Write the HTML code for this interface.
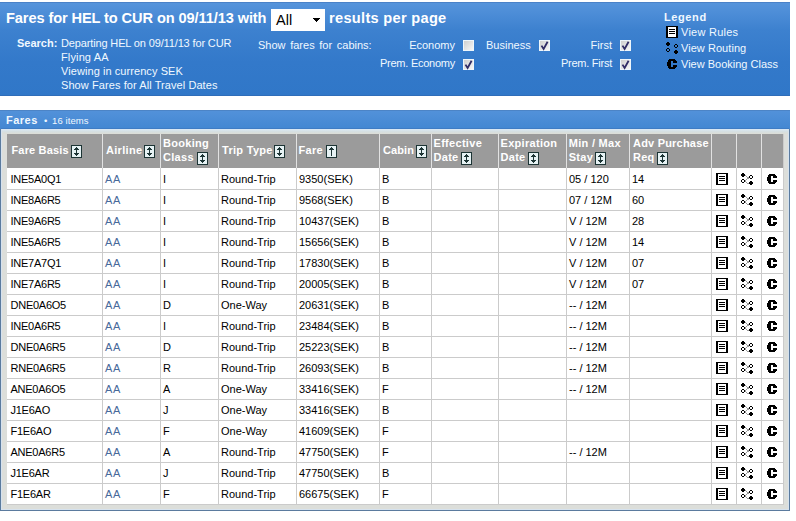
<!DOCTYPE html><html><head><meta charset="utf-8"><style>
*{margin:0;padding:0;box-sizing:border-box}
html,body{width:796px;height:521px;overflow:hidden;background:#fff}
body{position:relative;font-family:"Liberation Sans",sans-serif;font-size:11px;color:#000}
.a{position:absolute;white-space:nowrap;line-height:14px}
#hdr{position:absolute;left:0;top:2px;width:790px;height:94px;background:linear-gradient(#5795dc 0px,#3d81cf 28px,#3379ca 60px,#3077c8 94px)}
.w{color:#f0f8ff}
.b{font-weight:bold}
.cb{position:absolute;width:11px;height:11px}
#box{position:absolute;left:0;top:110px;width:790px;height:401px;border:1px solid #5b7b9e;border-top:none;background:#dcdeda}
#bar{position:absolute;left:-1px;top:0;width:790px;height:19px;background:linear-gradient(#5392da,#4387d2)}
.hd{position:absolute;top:134px;height:34px;background:#9b9b9b}
.vl{position:absolute;width:1px}
.hl{position:absolute;height:1px;background:#cbcbcb}
.c{position:absolute;white-space:nowrap;line-height:14px;font-size:11px}
.h{position:absolute;white-space:nowrap;line-height:13.5px;font-size:11px;font-weight:bold;color:#fff;letter-spacing:0.3px}
.ic{position:absolute}
</style></head><body>

<div id="hdr"></div>
<div class="a" style="left:0;top:2px;width:790px;height:1px;background:#4a82c8"></div>
<div class="a" style="left:0;top:95px;width:790px;height:1px;background:#2f6db9"></div>
<div class="a b" style="left:6px;top:10px;font-size:14.6px;line-height:17px;color:#fff;letter-spacing:-0.1px">Fares for HEL to CUR on 09/11/13 with</div>
<div class="a" style="left:271px;top:9px;width:54px;height:22px;background:#fff"></div>
<div class="a" style="left:276px;top:12px;font-size:14.5px;line-height:17px;color:#000">All</div>
<svg class="ic" style="left:313px;top:18px" width="7" height="4" shape-rendering="crispEdges"><g fill="#000"><rect x="0" y="0" width="7" height="1"/><rect x="1" y="1" width="5" height="1"/><rect x="2" y="2" width="3" height="1"/><rect x="3" y="3" width="1" height="1"/></g></svg>
<div class="a b" style="left:329px;top:10px;font-size:14.6px;line-height:17px;color:#fff;letter-spacing:0.3px">results per page</div>
<div class="a w b" style="left:17px;top:36.2px">Search:</div>
<div class="a w" style="left:61px;top:36.2px;letter-spacing:-0.14px">Departing HEL on 09/11/13 for CUR</div>
<div class="a w" style="left:61px;top:50.1px;letter-spacing:0.13px">Flying AA</div>
<div class="a w" style="left:61px;top:64.0px;letter-spacing:0.07px">Viewing in currency SEK</div>
<div class="a w" style="left:61px;top:77.9px;letter-spacing:0.08px">Show Fares for All Travel Dates</div>
<div class="a w" style="left:258px;top:38px;word-spacing:1.6px">Show fares for cabins:</div>
<div class="a w" style="right:341px;top:38px;letter-spacing:0px">Economy</div>
<div class="a w" style="right:341px;top:56px;letter-spacing:-0.25px">Prem. Economy</div>
<div class="a w" style="left:486px;top:38px">Business</div>
<div class="a w" style="right:184px;top:38px;letter-spacing:0px">First</div>
<div class="a w" style="right:184px;top:56px;letter-spacing:-0.25px">Prem. First</div>
<div class="cb" style="left:463px;top:40px;border:1px solid #eef6fc;background:linear-gradient(135deg,#cfcfcf,#f6f6f6)"></div>
<div class="cb" style="left:463px;top:59px;border:1px solid #eef6fc;background:linear-gradient(135deg,#cfcfcf,#f6f6f6)"></div>
<svg class="cb" style="left:463px;top:59px" width="11" height="11"><path d="M2.5 5.6 L4.6 9 L8.6 1.8" fill="none" stroke="#302c66" stroke-width="1.8"/></svg>
<div class="cb" style="left:539px;top:40px;border:1px solid #eef6fc;background:linear-gradient(135deg,#cfcfcf,#f6f6f6)"></div>
<svg class="cb" style="left:539px;top:40px" width="11" height="11"><path d="M2.5 5.6 L4.6 9 L8.6 1.8" fill="none" stroke="#302c66" stroke-width="1.8"/></svg>
<div class="cb" style="left:620px;top:40px;border:1px solid #eef6fc;background:linear-gradient(135deg,#cfcfcf,#f6f6f6)"></div>
<svg class="cb" style="left:620px;top:40px" width="11" height="11"><path d="M2.5 5.6 L4.6 9 L8.6 1.8" fill="none" stroke="#302c66" stroke-width="1.8"/></svg>
<div class="cb" style="left:620px;top:59px;border:1px solid #eef6fc;background:linear-gradient(135deg,#cfcfcf,#f6f6f6)"></div>
<svg class="cb" style="left:620px;top:59px" width="11" height="11"><path d="M2.5 5.6 L4.6 9 L8.6 1.8" fill="none" stroke="#302c66" stroke-width="1.8"/></svg>
<div class="a b w" style="left:664px;top:10px;letter-spacing:0.6px">Legend</div>
<svg class="ic" style="left:666px;top:26px" width="12" height="12" shape-rendering="crispEdges"><rect x="2" y="1" width="8" height="10" fill="#fff"/><g fill="#000"><rect x="0" y="0" width="12" height="1"/><rect x="0" y="1" width="2" height="1"/><rect x="10" y="1" width="2" height="1"/><rect x="0" y="2" width="2" height="1"/><rect x="10" y="2" width="2" height="1"/><rect x="0" y="3" width="2" height="1"/><rect x="3" y="3" width="6" height="1"/><rect x="10" y="3" width="2" height="1"/><rect x="0" y="4" width="2" height="1"/><rect x="10" y="4" width="2" height="1"/><rect x="0" y="5" width="2" height="1"/><rect x="3" y="5" width="6" height="1"/><rect x="10" y="5" width="2" height="1"/><rect x="0" y="6" width="2" height="1"/><rect x="10" y="6" width="2" height="1"/><rect x="0" y="7" width="2" height="1"/><rect x="3" y="7" width="6" height="1"/><rect x="10" y="7" width="2" height="1"/><rect x="0" y="8" width="2" height="1"/><rect x="10" y="8" width="2" height="1"/><rect x="0" y="9" width="2" height="1"/><rect x="10" y="9" width="2" height="1"/><rect x="0" y="10" width="2" height="1"/><rect x="10" y="10" width="2" height="1"/><rect x="0" y="11" width="12" height="1"/></g></svg>
<div class="a w" style="left:681px;top:25px;letter-spacing:0.25px">View Rules</div>
<svg class="ic" style="left:666px;top:42px" width="13" height="12" shape-rendering="crispEdges"><g fill="#000"><rect x="1" y="0" width="2" height="1"/><rect x="0" y="1" width="4" height="1"/><rect x="0" y="2" width="4" height="1"/><rect x="9" y="2" width="2" height="1"/><rect x="1" y="3" width="2" height="1"/><rect x="8" y="3" width="1" height="1"/><rect x="11" y="3" width="1" height="1"/><rect x="8" y="4" width="1" height="1"/><rect x="11" y="4" width="1" height="1"/><rect x="9" y="5" width="2" height="1"/><rect x="1" y="6" width="2" height="1"/><rect x="0" y="7" width="1" height="1"/><rect x="3" y="7" width="1" height="1"/><rect x="0" y="8" width="1" height="1"/><rect x="3" y="8" width="1" height="1"/><rect x="9" y="8" width="2" height="1"/><rect x="1" y="9" width="2" height="1"/><rect x="8" y="9" width="4" height="1"/><rect x="8" y="10" width="4" height="1"/><rect x="9" y="11" width="2" height="1"/></g></svg>
<div class="a w" style="left:681px;top:41px;letter-spacing:0.05px">View Routing</div>
<svg class="ic" style="left:667px;top:59px" width="10" height="10" shape-rendering="crispEdges"><g fill="#000"><rect x="2" y="0" width="6" height="1"/><rect x="1" y="1" width="8" height="1"/><rect x="1" y="2" width="3" height="1"/><rect x="6" y="2" width="4" height="1"/><rect x="0" y="3" width="4" height="1"/><rect x="6" y="3" width="4" height="1"/><rect x="0" y="4" width="4" height="1"/><rect x="0" y="5" width="4" height="1"/><rect x="0" y="6" width="4" height="1"/><rect x="6" y="6" width="4" height="1"/><rect x="1" y="7" width="3" height="1"/><rect x="6" y="7" width="4" height="1"/><rect x="1" y="8" width="8" height="1"/><rect x="2" y="9" width="6" height="1"/></g></svg>
<div class="a w" style="left:681px;top:57px">View Booking Class</div>
<div id="box"><div id="bar"></div></div>
<div class="a" style="left:1px;top:128px;width:788px;height:1px;background:#3f7cc4"></div>
<div class="a" style="left:1px;top:129px;width:788px;height:5px;background:linear-gradient(#dae8f6,#d6e0e2 50%,#dcddd6)"></div>
<div class="a" style="left:0px;top:110px;width:790px;height:1px;background:#4c84c6"></div>
<div class="a" style="left:1px;top:129px;width:1px;height:381px;background:#d6e2ee"></div>
<div class="a" style="left:788px;top:129px;width:1px;height:381px;background:#d6e2ee"></div>
<div class="a" style="left:1px;top:509px;width:788px;height:1px;background:#d6e2ee"></div>
<div class="a b w" style="left:6px;top:113px;letter-spacing:0.5px">Fares</div>
<div class="a w" style="left:44px;top:114px;font-size:9.5px">&#8226;</div>
<div class="a w" style="left:52px;top:114px;font-size:9.5px;letter-spacing:0.1px">16 items</div>
<div class="a" style="left:7px;top:168px;width:776px;height:336px;background:#fff"></div>
<div class="hd" style="left:7px;width:776px"></div>
<div class="hl" style="left:7px;top:189px;width:776px"></div>
<div class="hl" style="left:7px;top:210px;width:776px"></div>
<div class="hl" style="left:7px;top:231px;width:776px"></div>
<div class="hl" style="left:7px;top:252px;width:776px"></div>
<div class="hl" style="left:7px;top:273px;width:776px"></div>
<div class="hl" style="left:7px;top:294px;width:776px"></div>
<div class="hl" style="left:7px;top:315px;width:776px"></div>
<div class="hl" style="left:7px;top:336px;width:776px"></div>
<div class="hl" style="left:7px;top:357px;width:776px"></div>
<div class="hl" style="left:7px;top:378px;width:776px"></div>
<div class="hl" style="left:7px;top:399px;width:776px"></div>
<div class="hl" style="left:7px;top:420px;width:776px"></div>
<div class="hl" style="left:7px;top:441px;width:776px"></div>
<div class="hl" style="left:7px;top:462px;width:776px"></div>
<div class="hl" style="left:7px;top:483px;width:776px"></div>
<div class="hl" style="left:7px;top:504px;width:776px"></div>
<div class="vl" style="left:102px;top:134px;height:34px;background:#e2e2e2"></div>
<div class="vl" style="left:102px;top:168px;height:336px;background:#cbcbcb"></div>
<div class="vl" style="left:160px;top:134px;height:34px;background:#e2e2e2"></div>
<div class="vl" style="left:160px;top:168px;height:336px;background:#cbcbcb"></div>
<div class="vl" style="left:218px;top:134px;height:34px;background:#e2e2e2"></div>
<div class="vl" style="left:218px;top:168px;height:336px;background:#cbcbcb"></div>
<div class="vl" style="left:296px;top:134px;height:34px;background:#e2e2e2"></div>
<div class="vl" style="left:296px;top:168px;height:336px;background:#cbcbcb"></div>
<div class="vl" style="left:379px;top:134px;height:34px;background:#e2e2e2"></div>
<div class="vl" style="left:379px;top:168px;height:336px;background:#cbcbcb"></div>
<div class="vl" style="left:431px;top:134px;height:34px;background:#e2e2e2"></div>
<div class="vl" style="left:431px;top:168px;height:336px;background:#cbcbcb"></div>
<div class="vl" style="left:498px;top:134px;height:34px;background:#e2e2e2"></div>
<div class="vl" style="left:498px;top:168px;height:336px;background:#cbcbcb"></div>
<div class="vl" style="left:566px;top:134px;height:34px;background:#e2e2e2"></div>
<div class="vl" style="left:566px;top:168px;height:336px;background:#cbcbcb"></div>
<div class="vl" style="left:629px;top:134px;height:34px;background:#e2e2e2"></div>
<div class="vl" style="left:629px;top:168px;height:336px;background:#cbcbcb"></div>
<div class="vl" style="left:711px;top:134px;height:34px;background:#e2e2e2"></div>
<div class="vl" style="left:711px;top:168px;height:336px;background:#cbcbcb"></div>
<div class="vl" style="left:736px;top:134px;height:34px;background:#e2e2e2"></div>
<div class="vl" style="left:736px;top:168px;height:336px;background:#cbcbcb"></div>
<div class="vl" style="left:761px;top:134px;height:34px;background:#e2e2e2"></div>
<div class="vl" style="left:761px;top:168px;height:336px;background:#cbcbcb"></div>
<div class="vl" style="left:783px;top:134px;height:371px;background:#cbcbcb"></div>
<div class="h" style="left:11.5px;top:144px;letter-spacing:0.15px">Fare Basis</div>
<div class="h" style="left:106px;top:144px">Airline</div>
<div class="h" style="left:163px;top:137px">Booking<br>Class</div>
<div class="h" style="left:222px;top:144px">Trip Type</div>
<div class="h" style="left:298.5px;top:144px">Fare</div>
<div class="h" style="left:383px;top:144px;letter-spacing:0.1px">Cabin</div>
<div class="h" style="left:433.5px;top:137px">Effective<br>Date</div>
<div class="h" style="left:500.5px;top:137px">Expiration<br>Date</div>
<div class="h" style="left:568.7px;top:137px">Min / Max<br>Stay</div>
<div class="h" style="left:633px;top:137px;letter-spacing:0.2px">Adv Purchase<br>Req</div>
<svg class="ic" style="left:71px;top:145px" width="11" height="13" shape-rendering="crispEdges"><rect x="1" y="1" width="9" height="11" fill="#e6f2f4"/><g fill="#1c3434"><rect x="0" y="0" width="11" height="1"/><rect x="0" y="1" width="1" height="1"/><rect x="10" y="1" width="1" height="1"/><rect x="0" y="2" width="1" height="1"/><rect x="5" y="2" width="1" height="1"/><rect x="10" y="2" width="1" height="1"/><rect x="0" y="3" width="1" height="1"/><rect x="4" y="3" width="3" height="1"/><rect x="10" y="3" width="1" height="1"/><rect x="0" y="4" width="1" height="1"/><rect x="3" y="4" width="5" height="1"/><rect x="10" y="4" width="1" height="1"/><rect x="0" y="5" width="1" height="1"/><rect x="5" y="5" width="1" height="1"/><rect x="10" y="5" width="1" height="1"/><rect x="0" y="6" width="1" height="1"/><rect x="5" y="6" width="1" height="1"/><rect x="10" y="6" width="1" height="1"/><rect x="0" y="7" width="1" height="1"/><rect x="5" y="7" width="1" height="1"/><rect x="10" y="7" width="1" height="1"/><rect x="0" y="8" width="1" height="1"/><rect x="3" y="8" width="5" height="1"/><rect x="10" y="8" width="1" height="1"/><rect x="0" y="9" width="1" height="1"/><rect x="4" y="9" width="3" height="1"/><rect x="10" y="9" width="1" height="1"/><rect x="0" y="10" width="1" height="1"/><rect x="5" y="10" width="1" height="1"/><rect x="10" y="10" width="1" height="1"/><rect x="0" y="11" width="1" height="1"/><rect x="10" y="11" width="1" height="1"/><rect x="0" y="12" width="11" height="1"/></g></svg>
<svg class="ic" style="left:144px;top:145px" width="11" height="13" shape-rendering="crispEdges"><rect x="1" y="1" width="9" height="11" fill="#e6f2f4"/><g fill="#1c3434"><rect x="0" y="0" width="11" height="1"/><rect x="0" y="1" width="1" height="1"/><rect x="10" y="1" width="1" height="1"/><rect x="0" y="2" width="1" height="1"/><rect x="5" y="2" width="1" height="1"/><rect x="10" y="2" width="1" height="1"/><rect x="0" y="3" width="1" height="1"/><rect x="4" y="3" width="3" height="1"/><rect x="10" y="3" width="1" height="1"/><rect x="0" y="4" width="1" height="1"/><rect x="3" y="4" width="5" height="1"/><rect x="10" y="4" width="1" height="1"/><rect x="0" y="5" width="1" height="1"/><rect x="5" y="5" width="1" height="1"/><rect x="10" y="5" width="1" height="1"/><rect x="0" y="6" width="1" height="1"/><rect x="5" y="6" width="1" height="1"/><rect x="10" y="6" width="1" height="1"/><rect x="0" y="7" width="1" height="1"/><rect x="5" y="7" width="1" height="1"/><rect x="10" y="7" width="1" height="1"/><rect x="0" y="8" width="1" height="1"/><rect x="3" y="8" width="5" height="1"/><rect x="10" y="8" width="1" height="1"/><rect x="0" y="9" width="1" height="1"/><rect x="4" y="9" width="3" height="1"/><rect x="10" y="9" width="1" height="1"/><rect x="0" y="10" width="1" height="1"/><rect x="5" y="10" width="1" height="1"/><rect x="10" y="10" width="1" height="1"/><rect x="0" y="11" width="1" height="1"/><rect x="10" y="11" width="1" height="1"/><rect x="0" y="12" width="11" height="1"/></g></svg>
<svg class="ic" style="left:197px;top:152px" width="11" height="13" shape-rendering="crispEdges"><rect x="1" y="1" width="9" height="11" fill="#e6f2f4"/><g fill="#1c3434"><rect x="0" y="0" width="11" height="1"/><rect x="0" y="1" width="1" height="1"/><rect x="10" y="1" width="1" height="1"/><rect x="0" y="2" width="1" height="1"/><rect x="5" y="2" width="1" height="1"/><rect x="10" y="2" width="1" height="1"/><rect x="0" y="3" width="1" height="1"/><rect x="4" y="3" width="3" height="1"/><rect x="10" y="3" width="1" height="1"/><rect x="0" y="4" width="1" height="1"/><rect x="3" y="4" width="5" height="1"/><rect x="10" y="4" width="1" height="1"/><rect x="0" y="5" width="1" height="1"/><rect x="5" y="5" width="1" height="1"/><rect x="10" y="5" width="1" height="1"/><rect x="0" y="6" width="1" height="1"/><rect x="5" y="6" width="1" height="1"/><rect x="10" y="6" width="1" height="1"/><rect x="0" y="7" width="1" height="1"/><rect x="5" y="7" width="1" height="1"/><rect x="10" y="7" width="1" height="1"/><rect x="0" y="8" width="1" height="1"/><rect x="3" y="8" width="5" height="1"/><rect x="10" y="8" width="1" height="1"/><rect x="0" y="9" width="1" height="1"/><rect x="4" y="9" width="3" height="1"/><rect x="10" y="9" width="1" height="1"/><rect x="0" y="10" width="1" height="1"/><rect x="5" y="10" width="1" height="1"/><rect x="10" y="10" width="1" height="1"/><rect x="0" y="11" width="1" height="1"/><rect x="10" y="11" width="1" height="1"/><rect x="0" y="12" width="11" height="1"/></g></svg>
<svg class="ic" style="left:274px;top:145px" width="11" height="13" shape-rendering="crispEdges"><rect x="1" y="1" width="9" height="11" fill="#e6f2f4"/><g fill="#1c3434"><rect x="0" y="0" width="11" height="1"/><rect x="0" y="1" width="1" height="1"/><rect x="10" y="1" width="1" height="1"/><rect x="0" y="2" width="1" height="1"/><rect x="5" y="2" width="1" height="1"/><rect x="10" y="2" width="1" height="1"/><rect x="0" y="3" width="1" height="1"/><rect x="4" y="3" width="3" height="1"/><rect x="10" y="3" width="1" height="1"/><rect x="0" y="4" width="1" height="1"/><rect x="3" y="4" width="5" height="1"/><rect x="10" y="4" width="1" height="1"/><rect x="0" y="5" width="1" height="1"/><rect x="5" y="5" width="1" height="1"/><rect x="10" y="5" width="1" height="1"/><rect x="0" y="6" width="1" height="1"/><rect x="5" y="6" width="1" height="1"/><rect x="10" y="6" width="1" height="1"/><rect x="0" y="7" width="1" height="1"/><rect x="5" y="7" width="1" height="1"/><rect x="10" y="7" width="1" height="1"/><rect x="0" y="8" width="1" height="1"/><rect x="3" y="8" width="5" height="1"/><rect x="10" y="8" width="1" height="1"/><rect x="0" y="9" width="1" height="1"/><rect x="4" y="9" width="3" height="1"/><rect x="10" y="9" width="1" height="1"/><rect x="0" y="10" width="1" height="1"/><rect x="5" y="10" width="1" height="1"/><rect x="10" y="10" width="1" height="1"/><rect x="0" y="11" width="1" height="1"/><rect x="10" y="11" width="1" height="1"/><rect x="0" y="12" width="11" height="1"/></g></svg>
<svg class="ic" style="left:326px;top:145px" width="11" height="13" shape-rendering="crispEdges"><rect x="1" y="1" width="9" height="11" fill="#e6f2f4"/><g fill="#1c3434"><rect x="0" y="0" width="11" height="1"/><rect x="0" y="1" width="1" height="1"/><rect x="10" y="1" width="1" height="1"/><rect x="0" y="2" width="1" height="1"/><rect x="5" y="2" width="1" height="1"/><rect x="10" y="2" width="1" height="1"/><rect x="0" y="3" width="1" height="1"/><rect x="4" y="3" width="3" height="1"/><rect x="10" y="3" width="1" height="1"/><rect x="0" y="4" width="1" height="1"/><rect x="3" y="4" width="5" height="1"/><rect x="10" y="4" width="1" height="1"/><rect x="0" y="5" width="1" height="1"/><rect x="5" y="5" width="1" height="1"/><rect x="10" y="5" width="1" height="1"/><rect x="0" y="6" width="1" height="1"/><rect x="5" y="6" width="1" height="1"/><rect x="10" y="6" width="1" height="1"/><rect x="0" y="7" width="1" height="1"/><rect x="5" y="7" width="1" height="1"/><rect x="10" y="7" width="1" height="1"/><rect x="0" y="8" width="1" height="1"/><rect x="5" y="8" width="1" height="1"/><rect x="10" y="8" width="1" height="1"/><rect x="0" y="9" width="1" height="1"/><rect x="5" y="9" width="1" height="1"/><rect x="10" y="9" width="1" height="1"/><rect x="0" y="10" width="1" height="1"/><rect x="5" y="10" width="1" height="1"/><rect x="10" y="10" width="1" height="1"/><rect x="0" y="11" width="1" height="1"/><rect x="10" y="11" width="1" height="1"/><rect x="0" y="12" width="11" height="1"/></g></svg>
<svg class="ic" style="left:416px;top:145px" width="11" height="13" shape-rendering="crispEdges"><rect x="1" y="1" width="9" height="11" fill="#e6f2f4"/><g fill="#1c3434"><rect x="0" y="0" width="11" height="1"/><rect x="0" y="1" width="1" height="1"/><rect x="10" y="1" width="1" height="1"/><rect x="0" y="2" width="1" height="1"/><rect x="5" y="2" width="1" height="1"/><rect x="10" y="2" width="1" height="1"/><rect x="0" y="3" width="1" height="1"/><rect x="4" y="3" width="3" height="1"/><rect x="10" y="3" width="1" height="1"/><rect x="0" y="4" width="1" height="1"/><rect x="3" y="4" width="5" height="1"/><rect x="10" y="4" width="1" height="1"/><rect x="0" y="5" width="1" height="1"/><rect x="5" y="5" width="1" height="1"/><rect x="10" y="5" width="1" height="1"/><rect x="0" y="6" width="1" height="1"/><rect x="5" y="6" width="1" height="1"/><rect x="10" y="6" width="1" height="1"/><rect x="0" y="7" width="1" height="1"/><rect x="5" y="7" width="1" height="1"/><rect x="10" y="7" width="1" height="1"/><rect x="0" y="8" width="1" height="1"/><rect x="3" y="8" width="5" height="1"/><rect x="10" y="8" width="1" height="1"/><rect x="0" y="9" width="1" height="1"/><rect x="4" y="9" width="3" height="1"/><rect x="10" y="9" width="1" height="1"/><rect x="0" y="10" width="1" height="1"/><rect x="5" y="10" width="1" height="1"/><rect x="10" y="10" width="1" height="1"/><rect x="0" y="11" width="1" height="1"/><rect x="10" y="11" width="1" height="1"/><rect x="0" y="12" width="11" height="1"/></g></svg>
<svg class="ic" style="left:461px;top:152px" width="11" height="13" shape-rendering="crispEdges"><rect x="1" y="1" width="9" height="11" fill="#e6f2f4"/><g fill="#1c3434"><rect x="0" y="0" width="11" height="1"/><rect x="0" y="1" width="1" height="1"/><rect x="10" y="1" width="1" height="1"/><rect x="0" y="2" width="1" height="1"/><rect x="5" y="2" width="1" height="1"/><rect x="10" y="2" width="1" height="1"/><rect x="0" y="3" width="1" height="1"/><rect x="4" y="3" width="3" height="1"/><rect x="10" y="3" width="1" height="1"/><rect x="0" y="4" width="1" height="1"/><rect x="3" y="4" width="5" height="1"/><rect x="10" y="4" width="1" height="1"/><rect x="0" y="5" width="1" height="1"/><rect x="5" y="5" width="1" height="1"/><rect x="10" y="5" width="1" height="1"/><rect x="0" y="6" width="1" height="1"/><rect x="5" y="6" width="1" height="1"/><rect x="10" y="6" width="1" height="1"/><rect x="0" y="7" width="1" height="1"/><rect x="5" y="7" width="1" height="1"/><rect x="10" y="7" width="1" height="1"/><rect x="0" y="8" width="1" height="1"/><rect x="3" y="8" width="5" height="1"/><rect x="10" y="8" width="1" height="1"/><rect x="0" y="9" width="1" height="1"/><rect x="4" y="9" width="3" height="1"/><rect x="10" y="9" width="1" height="1"/><rect x="0" y="10" width="1" height="1"/><rect x="5" y="10" width="1" height="1"/><rect x="10" y="10" width="1" height="1"/><rect x="0" y="11" width="1" height="1"/><rect x="10" y="11" width="1" height="1"/><rect x="0" y="12" width="11" height="1"/></g></svg>
<svg class="ic" style="left:528px;top:152px" width="11" height="13" shape-rendering="crispEdges"><rect x="1" y="1" width="9" height="11" fill="#e6f2f4"/><g fill="#1c3434"><rect x="0" y="0" width="11" height="1"/><rect x="0" y="1" width="1" height="1"/><rect x="10" y="1" width="1" height="1"/><rect x="0" y="2" width="1" height="1"/><rect x="5" y="2" width="1" height="1"/><rect x="10" y="2" width="1" height="1"/><rect x="0" y="3" width="1" height="1"/><rect x="4" y="3" width="3" height="1"/><rect x="10" y="3" width="1" height="1"/><rect x="0" y="4" width="1" height="1"/><rect x="3" y="4" width="5" height="1"/><rect x="10" y="4" width="1" height="1"/><rect x="0" y="5" width="1" height="1"/><rect x="5" y="5" width="1" height="1"/><rect x="10" y="5" width="1" height="1"/><rect x="0" y="6" width="1" height="1"/><rect x="5" y="6" width="1" height="1"/><rect x="10" y="6" width="1" height="1"/><rect x="0" y="7" width="1" height="1"/><rect x="5" y="7" width="1" height="1"/><rect x="10" y="7" width="1" height="1"/><rect x="0" y="8" width="1" height="1"/><rect x="3" y="8" width="5" height="1"/><rect x="10" y="8" width="1" height="1"/><rect x="0" y="9" width="1" height="1"/><rect x="4" y="9" width="3" height="1"/><rect x="10" y="9" width="1" height="1"/><rect x="0" y="10" width="1" height="1"/><rect x="5" y="10" width="1" height="1"/><rect x="10" y="10" width="1" height="1"/><rect x="0" y="11" width="1" height="1"/><rect x="10" y="11" width="1" height="1"/><rect x="0" y="12" width="11" height="1"/></g></svg>
<svg class="ic" style="left:595px;top:152px" width="11" height="13" shape-rendering="crispEdges"><rect x="1" y="1" width="9" height="11" fill="#e6f2f4"/><g fill="#1c3434"><rect x="0" y="0" width="11" height="1"/><rect x="0" y="1" width="1" height="1"/><rect x="10" y="1" width="1" height="1"/><rect x="0" y="2" width="1" height="1"/><rect x="5" y="2" width="1" height="1"/><rect x="10" y="2" width="1" height="1"/><rect x="0" y="3" width="1" height="1"/><rect x="4" y="3" width="3" height="1"/><rect x="10" y="3" width="1" height="1"/><rect x="0" y="4" width="1" height="1"/><rect x="3" y="4" width="5" height="1"/><rect x="10" y="4" width="1" height="1"/><rect x="0" y="5" width="1" height="1"/><rect x="5" y="5" width="1" height="1"/><rect x="10" y="5" width="1" height="1"/><rect x="0" y="6" width="1" height="1"/><rect x="5" y="6" width="1" height="1"/><rect x="10" y="6" width="1" height="1"/><rect x="0" y="7" width="1" height="1"/><rect x="5" y="7" width="1" height="1"/><rect x="10" y="7" width="1" height="1"/><rect x="0" y="8" width="1" height="1"/><rect x="3" y="8" width="5" height="1"/><rect x="10" y="8" width="1" height="1"/><rect x="0" y="9" width="1" height="1"/><rect x="4" y="9" width="3" height="1"/><rect x="10" y="9" width="1" height="1"/><rect x="0" y="10" width="1" height="1"/><rect x="5" y="10" width="1" height="1"/><rect x="10" y="10" width="1" height="1"/><rect x="0" y="11" width="1" height="1"/><rect x="10" y="11" width="1" height="1"/><rect x="0" y="12" width="11" height="1"/></g></svg>
<svg class="ic" style="left:657px;top:152px" width="11" height="13" shape-rendering="crispEdges"><rect x="1" y="1" width="9" height="11" fill="#e6f2f4"/><g fill="#1c3434"><rect x="0" y="0" width="11" height="1"/><rect x="0" y="1" width="1" height="1"/><rect x="10" y="1" width="1" height="1"/><rect x="0" y="2" width="1" height="1"/><rect x="5" y="2" width="1" height="1"/><rect x="10" y="2" width="1" height="1"/><rect x="0" y="3" width="1" height="1"/><rect x="4" y="3" width="3" height="1"/><rect x="10" y="3" width="1" height="1"/><rect x="0" y="4" width="1" height="1"/><rect x="3" y="4" width="5" height="1"/><rect x="10" y="4" width="1" height="1"/><rect x="0" y="5" width="1" height="1"/><rect x="5" y="5" width="1" height="1"/><rect x="10" y="5" width="1" height="1"/><rect x="0" y="6" width="1" height="1"/><rect x="5" y="6" width="1" height="1"/><rect x="10" y="6" width="1" height="1"/><rect x="0" y="7" width="1" height="1"/><rect x="5" y="7" width="1" height="1"/><rect x="10" y="7" width="1" height="1"/><rect x="0" y="8" width="1" height="1"/><rect x="3" y="8" width="5" height="1"/><rect x="10" y="8" width="1" height="1"/><rect x="0" y="9" width="1" height="1"/><rect x="4" y="9" width="3" height="1"/><rect x="10" y="9" width="1" height="1"/><rect x="0" y="10" width="1" height="1"/><rect x="5" y="10" width="1" height="1"/><rect x="10" y="10" width="1" height="1"/><rect x="0" y="11" width="1" height="1"/><rect x="10" y="11" width="1" height="1"/><rect x="0" y="12" width="11" height="1"/></g></svg>
<div class="c" style="left:10.5px;top:172px;color:#000;letter-spacing:-0.25px">INE5A0Q1</div>
<div class="c" style="left:105px;top:172px;color:#47699a;letter-spacing:0.7px">AA</div>
<div class="c" style="left:163px;top:172px;color:#000">I</div>
<div class="c" style="left:221px;top:172px;color:#000">Round-Trip</div>
<div class="c" style="left:299px;top:172px;color:#000">9350(SEK)</div>
<div class="c" style="left:382px;top:172px;color:#000">B</div>
<div class="c" style="left:569px;top:172px;color:#000">05 / 120</div>
<div class="c" style="left:632px;top:172px;color:#000">14</div>
<svg class="ic" style="left:716px;top:173px" width="12" height="12" shape-rendering="crispEdges"><rect x="2" y="1" width="8" height="10" fill="#fff"/><g fill="#000"><rect x="0" y="0" width="12" height="1"/><rect x="0" y="1" width="2" height="1"/><rect x="10" y="1" width="2" height="1"/><rect x="0" y="2" width="2" height="1"/><rect x="10" y="2" width="2" height="1"/><rect x="0" y="3" width="2" height="1"/><rect x="3" y="3" width="6" height="1"/><rect x="10" y="3" width="2" height="1"/><rect x="0" y="4" width="2" height="1"/><rect x="10" y="4" width="2" height="1"/><rect x="0" y="5" width="2" height="1"/><rect x="3" y="5" width="6" height="1"/><rect x="10" y="5" width="2" height="1"/><rect x="0" y="6" width="2" height="1"/><rect x="10" y="6" width="2" height="1"/><rect x="0" y="7" width="2" height="1"/><rect x="3" y="7" width="6" height="1"/><rect x="10" y="7" width="2" height="1"/><rect x="0" y="8" width="2" height="1"/><rect x="10" y="8" width="2" height="1"/><rect x="0" y="9" width="2" height="1"/><rect x="10" y="9" width="2" height="1"/><rect x="0" y="10" width="2" height="1"/><rect x="10" y="10" width="2" height="1"/><rect x="0" y="11" width="12" height="1"/></g></svg>
<svg class="ic" style="left:741px;top:173px" width="13" height="12" shape-rendering="crispEdges"><g fill="#9a9a9a"><rect x="4" y="2" width="1" height="1"/><rect x="5" y="3" width="1" height="1"/><rect x="6" y="4" width="1" height="1"/><rect x="7" y="5" width="1" height="1"/><rect x="4" y="7" width="1" height="1"/><rect x="5" y="6" width="1" height="1"/><rect x="6" y="5" width="1" height="1"/><rect x="7" y="4" width="1" height="1"/><rect x="4" y="8" width="1" height="1"/><rect x="5" y="9" width="1" height="1"/><rect x="6" y="10" width="1" height="1"/><rect x="7" y="10" width="1" height="1"/></g><g fill="#000"><rect x="1" y="0" width="2" height="1"/><rect x="0" y="1" width="4" height="1"/><rect x="0" y="2" width="4" height="1"/><rect x="9" y="2" width="2" height="1"/><rect x="1" y="3" width="2" height="1"/><rect x="8" y="3" width="1" height="1"/><rect x="11" y="3" width="1" height="1"/><rect x="8" y="4" width="1" height="1"/><rect x="11" y="4" width="1" height="1"/><rect x="9" y="5" width="2" height="1"/><rect x="1" y="6" width="2" height="1"/><rect x="0" y="7" width="1" height="1"/><rect x="3" y="7" width="1" height="1"/><rect x="0" y="8" width="1" height="1"/><rect x="3" y="8" width="1" height="1"/><rect x="9" y="8" width="2" height="1"/><rect x="1" y="9" width="2" height="1"/><rect x="8" y="9" width="4" height="1"/><rect x="8" y="10" width="4" height="1"/><rect x="9" y="11" width="2" height="1"/></g></svg>
<svg class="ic" style="left:767px;top:174px" width="10" height="10" shape-rendering="crispEdges"><g fill="#000"><rect x="2" y="0" width="6" height="1"/><rect x="1" y="1" width="8" height="1"/><rect x="1" y="2" width="3" height="1"/><rect x="6" y="2" width="4" height="1"/><rect x="0" y="3" width="4" height="1"/><rect x="6" y="3" width="4" height="1"/><rect x="0" y="4" width="4" height="1"/><rect x="0" y="5" width="4" height="1"/><rect x="0" y="6" width="4" height="1"/><rect x="6" y="6" width="4" height="1"/><rect x="1" y="7" width="3" height="1"/><rect x="6" y="7" width="4" height="1"/><rect x="1" y="8" width="8" height="1"/><rect x="2" y="9" width="6" height="1"/></g></svg>
<div class="c" style="left:10.5px;top:193px;color:#000;letter-spacing:-0.25px">INE8A6R5</div>
<div class="c" style="left:105px;top:193px;color:#47699a;letter-spacing:0.7px">AA</div>
<div class="c" style="left:163px;top:193px;color:#000">I</div>
<div class="c" style="left:221px;top:193px;color:#000">Round-Trip</div>
<div class="c" style="left:299px;top:193px;color:#000">9568(SEK)</div>
<div class="c" style="left:382px;top:193px;color:#000">B</div>
<div class="c" style="left:569px;top:193px;color:#000">07 / 12M</div>
<div class="c" style="left:632px;top:193px;color:#000">60</div>
<svg class="ic" style="left:716px;top:194px" width="12" height="12" shape-rendering="crispEdges"><rect x="2" y="1" width="8" height="10" fill="#fff"/><g fill="#000"><rect x="0" y="0" width="12" height="1"/><rect x="0" y="1" width="2" height="1"/><rect x="10" y="1" width="2" height="1"/><rect x="0" y="2" width="2" height="1"/><rect x="10" y="2" width="2" height="1"/><rect x="0" y="3" width="2" height="1"/><rect x="3" y="3" width="6" height="1"/><rect x="10" y="3" width="2" height="1"/><rect x="0" y="4" width="2" height="1"/><rect x="10" y="4" width="2" height="1"/><rect x="0" y="5" width="2" height="1"/><rect x="3" y="5" width="6" height="1"/><rect x="10" y="5" width="2" height="1"/><rect x="0" y="6" width="2" height="1"/><rect x="10" y="6" width="2" height="1"/><rect x="0" y="7" width="2" height="1"/><rect x="3" y="7" width="6" height="1"/><rect x="10" y="7" width="2" height="1"/><rect x="0" y="8" width="2" height="1"/><rect x="10" y="8" width="2" height="1"/><rect x="0" y="9" width="2" height="1"/><rect x="10" y="9" width="2" height="1"/><rect x="0" y="10" width="2" height="1"/><rect x="10" y="10" width="2" height="1"/><rect x="0" y="11" width="12" height="1"/></g></svg>
<svg class="ic" style="left:741px;top:194px" width="13" height="12" shape-rendering="crispEdges"><g fill="#9a9a9a"><rect x="4" y="2" width="1" height="1"/><rect x="5" y="3" width="1" height="1"/><rect x="6" y="4" width="1" height="1"/><rect x="7" y="5" width="1" height="1"/><rect x="4" y="7" width="1" height="1"/><rect x="5" y="6" width="1" height="1"/><rect x="6" y="5" width="1" height="1"/><rect x="7" y="4" width="1" height="1"/><rect x="4" y="8" width="1" height="1"/><rect x="5" y="9" width="1" height="1"/><rect x="6" y="10" width="1" height="1"/><rect x="7" y="10" width="1" height="1"/></g><g fill="#000"><rect x="1" y="0" width="2" height="1"/><rect x="0" y="1" width="4" height="1"/><rect x="0" y="2" width="4" height="1"/><rect x="9" y="2" width="2" height="1"/><rect x="1" y="3" width="2" height="1"/><rect x="8" y="3" width="1" height="1"/><rect x="11" y="3" width="1" height="1"/><rect x="8" y="4" width="1" height="1"/><rect x="11" y="4" width="1" height="1"/><rect x="9" y="5" width="2" height="1"/><rect x="1" y="6" width="2" height="1"/><rect x="0" y="7" width="1" height="1"/><rect x="3" y="7" width="1" height="1"/><rect x="0" y="8" width="1" height="1"/><rect x="3" y="8" width="1" height="1"/><rect x="9" y="8" width="2" height="1"/><rect x="1" y="9" width="2" height="1"/><rect x="8" y="9" width="4" height="1"/><rect x="8" y="10" width="4" height="1"/><rect x="9" y="11" width="2" height="1"/></g></svg>
<svg class="ic" style="left:767px;top:195px" width="10" height="10" shape-rendering="crispEdges"><g fill="#000"><rect x="2" y="0" width="6" height="1"/><rect x="1" y="1" width="8" height="1"/><rect x="1" y="2" width="3" height="1"/><rect x="6" y="2" width="4" height="1"/><rect x="0" y="3" width="4" height="1"/><rect x="6" y="3" width="4" height="1"/><rect x="0" y="4" width="4" height="1"/><rect x="0" y="5" width="4" height="1"/><rect x="0" y="6" width="4" height="1"/><rect x="6" y="6" width="4" height="1"/><rect x="1" y="7" width="3" height="1"/><rect x="6" y="7" width="4" height="1"/><rect x="1" y="8" width="8" height="1"/><rect x="2" y="9" width="6" height="1"/></g></svg>
<div class="c" style="left:10.5px;top:214px;color:#000;letter-spacing:-0.25px">INE9A6R5</div>
<div class="c" style="left:105px;top:214px;color:#47699a;letter-spacing:0.7px">AA</div>
<div class="c" style="left:163px;top:214px;color:#000">I</div>
<div class="c" style="left:221px;top:214px;color:#000">Round-Trip</div>
<div class="c" style="left:299px;top:214px;color:#000">10437(SEK)</div>
<div class="c" style="left:382px;top:214px;color:#000">B</div>
<div class="c" style="left:569px;top:214px;color:#000">V / 12M</div>
<div class="c" style="left:632px;top:214px;color:#000">28</div>
<svg class="ic" style="left:716px;top:215px" width="12" height="12" shape-rendering="crispEdges"><rect x="2" y="1" width="8" height="10" fill="#fff"/><g fill="#000"><rect x="0" y="0" width="12" height="1"/><rect x="0" y="1" width="2" height="1"/><rect x="10" y="1" width="2" height="1"/><rect x="0" y="2" width="2" height="1"/><rect x="10" y="2" width="2" height="1"/><rect x="0" y="3" width="2" height="1"/><rect x="3" y="3" width="6" height="1"/><rect x="10" y="3" width="2" height="1"/><rect x="0" y="4" width="2" height="1"/><rect x="10" y="4" width="2" height="1"/><rect x="0" y="5" width="2" height="1"/><rect x="3" y="5" width="6" height="1"/><rect x="10" y="5" width="2" height="1"/><rect x="0" y="6" width="2" height="1"/><rect x="10" y="6" width="2" height="1"/><rect x="0" y="7" width="2" height="1"/><rect x="3" y="7" width="6" height="1"/><rect x="10" y="7" width="2" height="1"/><rect x="0" y="8" width="2" height="1"/><rect x="10" y="8" width="2" height="1"/><rect x="0" y="9" width="2" height="1"/><rect x="10" y="9" width="2" height="1"/><rect x="0" y="10" width="2" height="1"/><rect x="10" y="10" width="2" height="1"/><rect x="0" y="11" width="12" height="1"/></g></svg>
<svg class="ic" style="left:741px;top:215px" width="13" height="12" shape-rendering="crispEdges"><g fill="#9a9a9a"><rect x="4" y="2" width="1" height="1"/><rect x="5" y="3" width="1" height="1"/><rect x="6" y="4" width="1" height="1"/><rect x="7" y="5" width="1" height="1"/><rect x="4" y="7" width="1" height="1"/><rect x="5" y="6" width="1" height="1"/><rect x="6" y="5" width="1" height="1"/><rect x="7" y="4" width="1" height="1"/><rect x="4" y="8" width="1" height="1"/><rect x="5" y="9" width="1" height="1"/><rect x="6" y="10" width="1" height="1"/><rect x="7" y="10" width="1" height="1"/></g><g fill="#000"><rect x="1" y="0" width="2" height="1"/><rect x="0" y="1" width="4" height="1"/><rect x="0" y="2" width="4" height="1"/><rect x="9" y="2" width="2" height="1"/><rect x="1" y="3" width="2" height="1"/><rect x="8" y="3" width="1" height="1"/><rect x="11" y="3" width="1" height="1"/><rect x="8" y="4" width="1" height="1"/><rect x="11" y="4" width="1" height="1"/><rect x="9" y="5" width="2" height="1"/><rect x="1" y="6" width="2" height="1"/><rect x="0" y="7" width="1" height="1"/><rect x="3" y="7" width="1" height="1"/><rect x="0" y="8" width="1" height="1"/><rect x="3" y="8" width="1" height="1"/><rect x="9" y="8" width="2" height="1"/><rect x="1" y="9" width="2" height="1"/><rect x="8" y="9" width="4" height="1"/><rect x="8" y="10" width="4" height="1"/><rect x="9" y="11" width="2" height="1"/></g></svg>
<svg class="ic" style="left:767px;top:216px" width="10" height="10" shape-rendering="crispEdges"><g fill="#000"><rect x="2" y="0" width="6" height="1"/><rect x="1" y="1" width="8" height="1"/><rect x="1" y="2" width="3" height="1"/><rect x="6" y="2" width="4" height="1"/><rect x="0" y="3" width="4" height="1"/><rect x="6" y="3" width="4" height="1"/><rect x="0" y="4" width="4" height="1"/><rect x="0" y="5" width="4" height="1"/><rect x="0" y="6" width="4" height="1"/><rect x="6" y="6" width="4" height="1"/><rect x="1" y="7" width="3" height="1"/><rect x="6" y="7" width="4" height="1"/><rect x="1" y="8" width="8" height="1"/><rect x="2" y="9" width="6" height="1"/></g></svg>
<div class="c" style="left:10.5px;top:235px;color:#000;letter-spacing:-0.25px">INE5A6R5</div>
<div class="c" style="left:105px;top:235px;color:#47699a;letter-spacing:0.7px">AA</div>
<div class="c" style="left:163px;top:235px;color:#000">I</div>
<div class="c" style="left:221px;top:235px;color:#000">Round-Trip</div>
<div class="c" style="left:299px;top:235px;color:#000">15656(SEK)</div>
<div class="c" style="left:382px;top:235px;color:#000">B</div>
<div class="c" style="left:569px;top:235px;color:#000">V / 12M</div>
<div class="c" style="left:632px;top:235px;color:#000">14</div>
<svg class="ic" style="left:716px;top:236px" width="12" height="12" shape-rendering="crispEdges"><rect x="2" y="1" width="8" height="10" fill="#fff"/><g fill="#000"><rect x="0" y="0" width="12" height="1"/><rect x="0" y="1" width="2" height="1"/><rect x="10" y="1" width="2" height="1"/><rect x="0" y="2" width="2" height="1"/><rect x="10" y="2" width="2" height="1"/><rect x="0" y="3" width="2" height="1"/><rect x="3" y="3" width="6" height="1"/><rect x="10" y="3" width="2" height="1"/><rect x="0" y="4" width="2" height="1"/><rect x="10" y="4" width="2" height="1"/><rect x="0" y="5" width="2" height="1"/><rect x="3" y="5" width="6" height="1"/><rect x="10" y="5" width="2" height="1"/><rect x="0" y="6" width="2" height="1"/><rect x="10" y="6" width="2" height="1"/><rect x="0" y="7" width="2" height="1"/><rect x="3" y="7" width="6" height="1"/><rect x="10" y="7" width="2" height="1"/><rect x="0" y="8" width="2" height="1"/><rect x="10" y="8" width="2" height="1"/><rect x="0" y="9" width="2" height="1"/><rect x="10" y="9" width="2" height="1"/><rect x="0" y="10" width="2" height="1"/><rect x="10" y="10" width="2" height="1"/><rect x="0" y="11" width="12" height="1"/></g></svg>
<svg class="ic" style="left:741px;top:236px" width="13" height="12" shape-rendering="crispEdges"><g fill="#9a9a9a"><rect x="4" y="2" width="1" height="1"/><rect x="5" y="3" width="1" height="1"/><rect x="6" y="4" width="1" height="1"/><rect x="7" y="5" width="1" height="1"/><rect x="4" y="7" width="1" height="1"/><rect x="5" y="6" width="1" height="1"/><rect x="6" y="5" width="1" height="1"/><rect x="7" y="4" width="1" height="1"/><rect x="4" y="8" width="1" height="1"/><rect x="5" y="9" width="1" height="1"/><rect x="6" y="10" width="1" height="1"/><rect x="7" y="10" width="1" height="1"/></g><g fill="#000"><rect x="1" y="0" width="2" height="1"/><rect x="0" y="1" width="4" height="1"/><rect x="0" y="2" width="4" height="1"/><rect x="9" y="2" width="2" height="1"/><rect x="1" y="3" width="2" height="1"/><rect x="8" y="3" width="1" height="1"/><rect x="11" y="3" width="1" height="1"/><rect x="8" y="4" width="1" height="1"/><rect x="11" y="4" width="1" height="1"/><rect x="9" y="5" width="2" height="1"/><rect x="1" y="6" width="2" height="1"/><rect x="0" y="7" width="1" height="1"/><rect x="3" y="7" width="1" height="1"/><rect x="0" y="8" width="1" height="1"/><rect x="3" y="8" width="1" height="1"/><rect x="9" y="8" width="2" height="1"/><rect x="1" y="9" width="2" height="1"/><rect x="8" y="9" width="4" height="1"/><rect x="8" y="10" width="4" height="1"/><rect x="9" y="11" width="2" height="1"/></g></svg>
<svg class="ic" style="left:767px;top:237px" width="10" height="10" shape-rendering="crispEdges"><g fill="#000"><rect x="2" y="0" width="6" height="1"/><rect x="1" y="1" width="8" height="1"/><rect x="1" y="2" width="3" height="1"/><rect x="6" y="2" width="4" height="1"/><rect x="0" y="3" width="4" height="1"/><rect x="6" y="3" width="4" height="1"/><rect x="0" y="4" width="4" height="1"/><rect x="0" y="5" width="4" height="1"/><rect x="0" y="6" width="4" height="1"/><rect x="6" y="6" width="4" height="1"/><rect x="1" y="7" width="3" height="1"/><rect x="6" y="7" width="4" height="1"/><rect x="1" y="8" width="8" height="1"/><rect x="2" y="9" width="6" height="1"/></g></svg>
<div class="c" style="left:10.5px;top:256px;color:#000;letter-spacing:-0.25px">INE7A7Q1</div>
<div class="c" style="left:105px;top:256px;color:#47699a;letter-spacing:0.7px">AA</div>
<div class="c" style="left:163px;top:256px;color:#000">I</div>
<div class="c" style="left:221px;top:256px;color:#000">Round-Trip</div>
<div class="c" style="left:299px;top:256px;color:#000">17830(SEK)</div>
<div class="c" style="left:382px;top:256px;color:#000">B</div>
<div class="c" style="left:569px;top:256px;color:#000">V / 12M</div>
<div class="c" style="left:632px;top:256px;color:#000">07</div>
<svg class="ic" style="left:716px;top:257px" width="12" height="12" shape-rendering="crispEdges"><rect x="2" y="1" width="8" height="10" fill="#fff"/><g fill="#000"><rect x="0" y="0" width="12" height="1"/><rect x="0" y="1" width="2" height="1"/><rect x="10" y="1" width="2" height="1"/><rect x="0" y="2" width="2" height="1"/><rect x="10" y="2" width="2" height="1"/><rect x="0" y="3" width="2" height="1"/><rect x="3" y="3" width="6" height="1"/><rect x="10" y="3" width="2" height="1"/><rect x="0" y="4" width="2" height="1"/><rect x="10" y="4" width="2" height="1"/><rect x="0" y="5" width="2" height="1"/><rect x="3" y="5" width="6" height="1"/><rect x="10" y="5" width="2" height="1"/><rect x="0" y="6" width="2" height="1"/><rect x="10" y="6" width="2" height="1"/><rect x="0" y="7" width="2" height="1"/><rect x="3" y="7" width="6" height="1"/><rect x="10" y="7" width="2" height="1"/><rect x="0" y="8" width="2" height="1"/><rect x="10" y="8" width="2" height="1"/><rect x="0" y="9" width="2" height="1"/><rect x="10" y="9" width="2" height="1"/><rect x="0" y="10" width="2" height="1"/><rect x="10" y="10" width="2" height="1"/><rect x="0" y="11" width="12" height="1"/></g></svg>
<svg class="ic" style="left:741px;top:257px" width="13" height="12" shape-rendering="crispEdges"><g fill="#9a9a9a"><rect x="4" y="2" width="1" height="1"/><rect x="5" y="3" width="1" height="1"/><rect x="6" y="4" width="1" height="1"/><rect x="7" y="5" width="1" height="1"/><rect x="4" y="7" width="1" height="1"/><rect x="5" y="6" width="1" height="1"/><rect x="6" y="5" width="1" height="1"/><rect x="7" y="4" width="1" height="1"/><rect x="4" y="8" width="1" height="1"/><rect x="5" y="9" width="1" height="1"/><rect x="6" y="10" width="1" height="1"/><rect x="7" y="10" width="1" height="1"/></g><g fill="#000"><rect x="1" y="0" width="2" height="1"/><rect x="0" y="1" width="4" height="1"/><rect x="0" y="2" width="4" height="1"/><rect x="9" y="2" width="2" height="1"/><rect x="1" y="3" width="2" height="1"/><rect x="8" y="3" width="1" height="1"/><rect x="11" y="3" width="1" height="1"/><rect x="8" y="4" width="1" height="1"/><rect x="11" y="4" width="1" height="1"/><rect x="9" y="5" width="2" height="1"/><rect x="1" y="6" width="2" height="1"/><rect x="0" y="7" width="1" height="1"/><rect x="3" y="7" width="1" height="1"/><rect x="0" y="8" width="1" height="1"/><rect x="3" y="8" width="1" height="1"/><rect x="9" y="8" width="2" height="1"/><rect x="1" y="9" width="2" height="1"/><rect x="8" y="9" width="4" height="1"/><rect x="8" y="10" width="4" height="1"/><rect x="9" y="11" width="2" height="1"/></g></svg>
<svg class="ic" style="left:767px;top:258px" width="10" height="10" shape-rendering="crispEdges"><g fill="#000"><rect x="2" y="0" width="6" height="1"/><rect x="1" y="1" width="8" height="1"/><rect x="1" y="2" width="3" height="1"/><rect x="6" y="2" width="4" height="1"/><rect x="0" y="3" width="4" height="1"/><rect x="6" y="3" width="4" height="1"/><rect x="0" y="4" width="4" height="1"/><rect x="0" y="5" width="4" height="1"/><rect x="0" y="6" width="4" height="1"/><rect x="6" y="6" width="4" height="1"/><rect x="1" y="7" width="3" height="1"/><rect x="6" y="7" width="4" height="1"/><rect x="1" y="8" width="8" height="1"/><rect x="2" y="9" width="6" height="1"/></g></svg>
<div class="c" style="left:10.5px;top:277px;color:#000;letter-spacing:-0.25px">INE7A6R5</div>
<div class="c" style="left:105px;top:277px;color:#47699a;letter-spacing:0.7px">AA</div>
<div class="c" style="left:163px;top:277px;color:#000">I</div>
<div class="c" style="left:221px;top:277px;color:#000">Round-Trip</div>
<div class="c" style="left:299px;top:277px;color:#000">20005(SEK)</div>
<div class="c" style="left:382px;top:277px;color:#000">B</div>
<div class="c" style="left:569px;top:277px;color:#000">V / 12M</div>
<div class="c" style="left:632px;top:277px;color:#000">07</div>
<svg class="ic" style="left:716px;top:278px" width="12" height="12" shape-rendering="crispEdges"><rect x="2" y="1" width="8" height="10" fill="#fff"/><g fill="#000"><rect x="0" y="0" width="12" height="1"/><rect x="0" y="1" width="2" height="1"/><rect x="10" y="1" width="2" height="1"/><rect x="0" y="2" width="2" height="1"/><rect x="10" y="2" width="2" height="1"/><rect x="0" y="3" width="2" height="1"/><rect x="3" y="3" width="6" height="1"/><rect x="10" y="3" width="2" height="1"/><rect x="0" y="4" width="2" height="1"/><rect x="10" y="4" width="2" height="1"/><rect x="0" y="5" width="2" height="1"/><rect x="3" y="5" width="6" height="1"/><rect x="10" y="5" width="2" height="1"/><rect x="0" y="6" width="2" height="1"/><rect x="10" y="6" width="2" height="1"/><rect x="0" y="7" width="2" height="1"/><rect x="3" y="7" width="6" height="1"/><rect x="10" y="7" width="2" height="1"/><rect x="0" y="8" width="2" height="1"/><rect x="10" y="8" width="2" height="1"/><rect x="0" y="9" width="2" height="1"/><rect x="10" y="9" width="2" height="1"/><rect x="0" y="10" width="2" height="1"/><rect x="10" y="10" width="2" height="1"/><rect x="0" y="11" width="12" height="1"/></g></svg>
<svg class="ic" style="left:741px;top:278px" width="13" height="12" shape-rendering="crispEdges"><g fill="#9a9a9a"><rect x="4" y="2" width="1" height="1"/><rect x="5" y="3" width="1" height="1"/><rect x="6" y="4" width="1" height="1"/><rect x="7" y="5" width="1" height="1"/><rect x="4" y="7" width="1" height="1"/><rect x="5" y="6" width="1" height="1"/><rect x="6" y="5" width="1" height="1"/><rect x="7" y="4" width="1" height="1"/><rect x="4" y="8" width="1" height="1"/><rect x="5" y="9" width="1" height="1"/><rect x="6" y="10" width="1" height="1"/><rect x="7" y="10" width="1" height="1"/></g><g fill="#000"><rect x="1" y="0" width="2" height="1"/><rect x="0" y="1" width="4" height="1"/><rect x="0" y="2" width="4" height="1"/><rect x="9" y="2" width="2" height="1"/><rect x="1" y="3" width="2" height="1"/><rect x="8" y="3" width="1" height="1"/><rect x="11" y="3" width="1" height="1"/><rect x="8" y="4" width="1" height="1"/><rect x="11" y="4" width="1" height="1"/><rect x="9" y="5" width="2" height="1"/><rect x="1" y="6" width="2" height="1"/><rect x="0" y="7" width="1" height="1"/><rect x="3" y="7" width="1" height="1"/><rect x="0" y="8" width="1" height="1"/><rect x="3" y="8" width="1" height="1"/><rect x="9" y="8" width="2" height="1"/><rect x="1" y="9" width="2" height="1"/><rect x="8" y="9" width="4" height="1"/><rect x="8" y="10" width="4" height="1"/><rect x="9" y="11" width="2" height="1"/></g></svg>
<svg class="ic" style="left:767px;top:279px" width="10" height="10" shape-rendering="crispEdges"><g fill="#000"><rect x="2" y="0" width="6" height="1"/><rect x="1" y="1" width="8" height="1"/><rect x="1" y="2" width="3" height="1"/><rect x="6" y="2" width="4" height="1"/><rect x="0" y="3" width="4" height="1"/><rect x="6" y="3" width="4" height="1"/><rect x="0" y="4" width="4" height="1"/><rect x="0" y="5" width="4" height="1"/><rect x="0" y="6" width="4" height="1"/><rect x="6" y="6" width="4" height="1"/><rect x="1" y="7" width="3" height="1"/><rect x="6" y="7" width="4" height="1"/><rect x="1" y="8" width="8" height="1"/><rect x="2" y="9" width="6" height="1"/></g></svg>
<div class="c" style="left:10.5px;top:298px;color:#000;letter-spacing:-0.25px">DNE0A6O5</div>
<div class="c" style="left:105px;top:298px;color:#47699a;letter-spacing:0.7px">AA</div>
<div class="c" style="left:163px;top:298px;color:#000">D</div>
<div class="c" style="left:221px;top:298px;color:#000">One-Way</div>
<div class="c" style="left:299px;top:298px;color:#000">20631(SEK)</div>
<div class="c" style="left:382px;top:298px;color:#000">B</div>
<div class="c" style="left:569px;top:298px;color:#000">-- / 12M</div>
<svg class="ic" style="left:716px;top:299px" width="12" height="12" shape-rendering="crispEdges"><rect x="2" y="1" width="8" height="10" fill="#fff"/><g fill="#000"><rect x="0" y="0" width="12" height="1"/><rect x="0" y="1" width="2" height="1"/><rect x="10" y="1" width="2" height="1"/><rect x="0" y="2" width="2" height="1"/><rect x="10" y="2" width="2" height="1"/><rect x="0" y="3" width="2" height="1"/><rect x="3" y="3" width="6" height="1"/><rect x="10" y="3" width="2" height="1"/><rect x="0" y="4" width="2" height="1"/><rect x="10" y="4" width="2" height="1"/><rect x="0" y="5" width="2" height="1"/><rect x="3" y="5" width="6" height="1"/><rect x="10" y="5" width="2" height="1"/><rect x="0" y="6" width="2" height="1"/><rect x="10" y="6" width="2" height="1"/><rect x="0" y="7" width="2" height="1"/><rect x="3" y="7" width="6" height="1"/><rect x="10" y="7" width="2" height="1"/><rect x="0" y="8" width="2" height="1"/><rect x="10" y="8" width="2" height="1"/><rect x="0" y="9" width="2" height="1"/><rect x="10" y="9" width="2" height="1"/><rect x="0" y="10" width="2" height="1"/><rect x="10" y="10" width="2" height="1"/><rect x="0" y="11" width="12" height="1"/></g></svg>
<svg class="ic" style="left:741px;top:299px" width="13" height="12" shape-rendering="crispEdges"><g fill="#9a9a9a"><rect x="4" y="2" width="1" height="1"/><rect x="5" y="3" width="1" height="1"/><rect x="6" y="4" width="1" height="1"/><rect x="7" y="5" width="1" height="1"/><rect x="4" y="7" width="1" height="1"/><rect x="5" y="6" width="1" height="1"/><rect x="6" y="5" width="1" height="1"/><rect x="7" y="4" width="1" height="1"/><rect x="4" y="8" width="1" height="1"/><rect x="5" y="9" width="1" height="1"/><rect x="6" y="10" width="1" height="1"/><rect x="7" y="10" width="1" height="1"/></g><g fill="#000"><rect x="1" y="0" width="2" height="1"/><rect x="0" y="1" width="4" height="1"/><rect x="0" y="2" width="4" height="1"/><rect x="9" y="2" width="2" height="1"/><rect x="1" y="3" width="2" height="1"/><rect x="8" y="3" width="1" height="1"/><rect x="11" y="3" width="1" height="1"/><rect x="8" y="4" width="1" height="1"/><rect x="11" y="4" width="1" height="1"/><rect x="9" y="5" width="2" height="1"/><rect x="1" y="6" width="2" height="1"/><rect x="0" y="7" width="1" height="1"/><rect x="3" y="7" width="1" height="1"/><rect x="0" y="8" width="1" height="1"/><rect x="3" y="8" width="1" height="1"/><rect x="9" y="8" width="2" height="1"/><rect x="1" y="9" width="2" height="1"/><rect x="8" y="9" width="4" height="1"/><rect x="8" y="10" width="4" height="1"/><rect x="9" y="11" width="2" height="1"/></g></svg>
<svg class="ic" style="left:767px;top:300px" width="10" height="10" shape-rendering="crispEdges"><g fill="#000"><rect x="2" y="0" width="6" height="1"/><rect x="1" y="1" width="8" height="1"/><rect x="1" y="2" width="3" height="1"/><rect x="6" y="2" width="4" height="1"/><rect x="0" y="3" width="4" height="1"/><rect x="6" y="3" width="4" height="1"/><rect x="0" y="4" width="4" height="1"/><rect x="0" y="5" width="4" height="1"/><rect x="0" y="6" width="4" height="1"/><rect x="6" y="6" width="4" height="1"/><rect x="1" y="7" width="3" height="1"/><rect x="6" y="7" width="4" height="1"/><rect x="1" y="8" width="8" height="1"/><rect x="2" y="9" width="6" height="1"/></g></svg>
<div class="c" style="left:10.5px;top:319px;color:#000;letter-spacing:-0.25px">INE0A6R5</div>
<div class="c" style="left:105px;top:319px;color:#47699a;letter-spacing:0.7px">AA</div>
<div class="c" style="left:163px;top:319px;color:#000">I</div>
<div class="c" style="left:221px;top:319px;color:#000">Round-Trip</div>
<div class="c" style="left:299px;top:319px;color:#000">23484(SEK)</div>
<div class="c" style="left:382px;top:319px;color:#000">B</div>
<div class="c" style="left:569px;top:319px;color:#000">-- / 12M</div>
<svg class="ic" style="left:716px;top:320px" width="12" height="12" shape-rendering="crispEdges"><rect x="2" y="1" width="8" height="10" fill="#fff"/><g fill="#000"><rect x="0" y="0" width="12" height="1"/><rect x="0" y="1" width="2" height="1"/><rect x="10" y="1" width="2" height="1"/><rect x="0" y="2" width="2" height="1"/><rect x="10" y="2" width="2" height="1"/><rect x="0" y="3" width="2" height="1"/><rect x="3" y="3" width="6" height="1"/><rect x="10" y="3" width="2" height="1"/><rect x="0" y="4" width="2" height="1"/><rect x="10" y="4" width="2" height="1"/><rect x="0" y="5" width="2" height="1"/><rect x="3" y="5" width="6" height="1"/><rect x="10" y="5" width="2" height="1"/><rect x="0" y="6" width="2" height="1"/><rect x="10" y="6" width="2" height="1"/><rect x="0" y="7" width="2" height="1"/><rect x="3" y="7" width="6" height="1"/><rect x="10" y="7" width="2" height="1"/><rect x="0" y="8" width="2" height="1"/><rect x="10" y="8" width="2" height="1"/><rect x="0" y="9" width="2" height="1"/><rect x="10" y="9" width="2" height="1"/><rect x="0" y="10" width="2" height="1"/><rect x="10" y="10" width="2" height="1"/><rect x="0" y="11" width="12" height="1"/></g></svg>
<svg class="ic" style="left:741px;top:320px" width="13" height="12" shape-rendering="crispEdges"><g fill="#9a9a9a"><rect x="4" y="2" width="1" height="1"/><rect x="5" y="3" width="1" height="1"/><rect x="6" y="4" width="1" height="1"/><rect x="7" y="5" width="1" height="1"/><rect x="4" y="7" width="1" height="1"/><rect x="5" y="6" width="1" height="1"/><rect x="6" y="5" width="1" height="1"/><rect x="7" y="4" width="1" height="1"/><rect x="4" y="8" width="1" height="1"/><rect x="5" y="9" width="1" height="1"/><rect x="6" y="10" width="1" height="1"/><rect x="7" y="10" width="1" height="1"/></g><g fill="#000"><rect x="1" y="0" width="2" height="1"/><rect x="0" y="1" width="4" height="1"/><rect x="0" y="2" width="4" height="1"/><rect x="9" y="2" width="2" height="1"/><rect x="1" y="3" width="2" height="1"/><rect x="8" y="3" width="1" height="1"/><rect x="11" y="3" width="1" height="1"/><rect x="8" y="4" width="1" height="1"/><rect x="11" y="4" width="1" height="1"/><rect x="9" y="5" width="2" height="1"/><rect x="1" y="6" width="2" height="1"/><rect x="0" y="7" width="1" height="1"/><rect x="3" y="7" width="1" height="1"/><rect x="0" y="8" width="1" height="1"/><rect x="3" y="8" width="1" height="1"/><rect x="9" y="8" width="2" height="1"/><rect x="1" y="9" width="2" height="1"/><rect x="8" y="9" width="4" height="1"/><rect x="8" y="10" width="4" height="1"/><rect x="9" y="11" width="2" height="1"/></g></svg>
<svg class="ic" style="left:767px;top:321px" width="10" height="10" shape-rendering="crispEdges"><g fill="#000"><rect x="2" y="0" width="6" height="1"/><rect x="1" y="1" width="8" height="1"/><rect x="1" y="2" width="3" height="1"/><rect x="6" y="2" width="4" height="1"/><rect x="0" y="3" width="4" height="1"/><rect x="6" y="3" width="4" height="1"/><rect x="0" y="4" width="4" height="1"/><rect x="0" y="5" width="4" height="1"/><rect x="0" y="6" width="4" height="1"/><rect x="6" y="6" width="4" height="1"/><rect x="1" y="7" width="3" height="1"/><rect x="6" y="7" width="4" height="1"/><rect x="1" y="8" width="8" height="1"/><rect x="2" y="9" width="6" height="1"/></g></svg>
<div class="c" style="left:10.5px;top:340px;color:#000;letter-spacing:-0.25px">DNE0A6R5</div>
<div class="c" style="left:105px;top:340px;color:#47699a;letter-spacing:0.7px">AA</div>
<div class="c" style="left:163px;top:340px;color:#000">D</div>
<div class="c" style="left:221px;top:340px;color:#000">Round-Trip</div>
<div class="c" style="left:299px;top:340px;color:#000">25223(SEK)</div>
<div class="c" style="left:382px;top:340px;color:#000">B</div>
<div class="c" style="left:569px;top:340px;color:#000">-- / 12M</div>
<svg class="ic" style="left:716px;top:341px" width="12" height="12" shape-rendering="crispEdges"><rect x="2" y="1" width="8" height="10" fill="#fff"/><g fill="#000"><rect x="0" y="0" width="12" height="1"/><rect x="0" y="1" width="2" height="1"/><rect x="10" y="1" width="2" height="1"/><rect x="0" y="2" width="2" height="1"/><rect x="10" y="2" width="2" height="1"/><rect x="0" y="3" width="2" height="1"/><rect x="3" y="3" width="6" height="1"/><rect x="10" y="3" width="2" height="1"/><rect x="0" y="4" width="2" height="1"/><rect x="10" y="4" width="2" height="1"/><rect x="0" y="5" width="2" height="1"/><rect x="3" y="5" width="6" height="1"/><rect x="10" y="5" width="2" height="1"/><rect x="0" y="6" width="2" height="1"/><rect x="10" y="6" width="2" height="1"/><rect x="0" y="7" width="2" height="1"/><rect x="3" y="7" width="6" height="1"/><rect x="10" y="7" width="2" height="1"/><rect x="0" y="8" width="2" height="1"/><rect x="10" y="8" width="2" height="1"/><rect x="0" y="9" width="2" height="1"/><rect x="10" y="9" width="2" height="1"/><rect x="0" y="10" width="2" height="1"/><rect x="10" y="10" width="2" height="1"/><rect x="0" y="11" width="12" height="1"/></g></svg>
<svg class="ic" style="left:741px;top:341px" width="13" height="12" shape-rendering="crispEdges"><g fill="#9a9a9a"><rect x="4" y="2" width="1" height="1"/><rect x="5" y="3" width="1" height="1"/><rect x="6" y="4" width="1" height="1"/><rect x="7" y="5" width="1" height="1"/><rect x="4" y="7" width="1" height="1"/><rect x="5" y="6" width="1" height="1"/><rect x="6" y="5" width="1" height="1"/><rect x="7" y="4" width="1" height="1"/><rect x="4" y="8" width="1" height="1"/><rect x="5" y="9" width="1" height="1"/><rect x="6" y="10" width="1" height="1"/><rect x="7" y="10" width="1" height="1"/></g><g fill="#000"><rect x="1" y="0" width="2" height="1"/><rect x="0" y="1" width="4" height="1"/><rect x="0" y="2" width="4" height="1"/><rect x="9" y="2" width="2" height="1"/><rect x="1" y="3" width="2" height="1"/><rect x="8" y="3" width="1" height="1"/><rect x="11" y="3" width="1" height="1"/><rect x="8" y="4" width="1" height="1"/><rect x="11" y="4" width="1" height="1"/><rect x="9" y="5" width="2" height="1"/><rect x="1" y="6" width="2" height="1"/><rect x="0" y="7" width="1" height="1"/><rect x="3" y="7" width="1" height="1"/><rect x="0" y="8" width="1" height="1"/><rect x="3" y="8" width="1" height="1"/><rect x="9" y="8" width="2" height="1"/><rect x="1" y="9" width="2" height="1"/><rect x="8" y="9" width="4" height="1"/><rect x="8" y="10" width="4" height="1"/><rect x="9" y="11" width="2" height="1"/></g></svg>
<svg class="ic" style="left:767px;top:342px" width="10" height="10" shape-rendering="crispEdges"><g fill="#000"><rect x="2" y="0" width="6" height="1"/><rect x="1" y="1" width="8" height="1"/><rect x="1" y="2" width="3" height="1"/><rect x="6" y="2" width="4" height="1"/><rect x="0" y="3" width="4" height="1"/><rect x="6" y="3" width="4" height="1"/><rect x="0" y="4" width="4" height="1"/><rect x="0" y="5" width="4" height="1"/><rect x="0" y="6" width="4" height="1"/><rect x="6" y="6" width="4" height="1"/><rect x="1" y="7" width="3" height="1"/><rect x="6" y="7" width="4" height="1"/><rect x="1" y="8" width="8" height="1"/><rect x="2" y="9" width="6" height="1"/></g></svg>
<div class="c" style="left:10.5px;top:361px;color:#000;letter-spacing:-0.25px">RNE0A6R5</div>
<div class="c" style="left:105px;top:361px;color:#47699a;letter-spacing:0.7px">AA</div>
<div class="c" style="left:163px;top:361px;color:#000">R</div>
<div class="c" style="left:221px;top:361px;color:#000">Round-Trip</div>
<div class="c" style="left:299px;top:361px;color:#000">26093(SEK)</div>
<div class="c" style="left:382px;top:361px;color:#000">B</div>
<div class="c" style="left:569px;top:361px;color:#000">-- / 12M</div>
<svg class="ic" style="left:716px;top:362px" width="12" height="12" shape-rendering="crispEdges"><rect x="2" y="1" width="8" height="10" fill="#fff"/><g fill="#000"><rect x="0" y="0" width="12" height="1"/><rect x="0" y="1" width="2" height="1"/><rect x="10" y="1" width="2" height="1"/><rect x="0" y="2" width="2" height="1"/><rect x="10" y="2" width="2" height="1"/><rect x="0" y="3" width="2" height="1"/><rect x="3" y="3" width="6" height="1"/><rect x="10" y="3" width="2" height="1"/><rect x="0" y="4" width="2" height="1"/><rect x="10" y="4" width="2" height="1"/><rect x="0" y="5" width="2" height="1"/><rect x="3" y="5" width="6" height="1"/><rect x="10" y="5" width="2" height="1"/><rect x="0" y="6" width="2" height="1"/><rect x="10" y="6" width="2" height="1"/><rect x="0" y="7" width="2" height="1"/><rect x="3" y="7" width="6" height="1"/><rect x="10" y="7" width="2" height="1"/><rect x="0" y="8" width="2" height="1"/><rect x="10" y="8" width="2" height="1"/><rect x="0" y="9" width="2" height="1"/><rect x="10" y="9" width="2" height="1"/><rect x="0" y="10" width="2" height="1"/><rect x="10" y="10" width="2" height="1"/><rect x="0" y="11" width="12" height="1"/></g></svg>
<svg class="ic" style="left:741px;top:362px" width="13" height="12" shape-rendering="crispEdges"><g fill="#9a9a9a"><rect x="4" y="2" width="1" height="1"/><rect x="5" y="3" width="1" height="1"/><rect x="6" y="4" width="1" height="1"/><rect x="7" y="5" width="1" height="1"/><rect x="4" y="7" width="1" height="1"/><rect x="5" y="6" width="1" height="1"/><rect x="6" y="5" width="1" height="1"/><rect x="7" y="4" width="1" height="1"/><rect x="4" y="8" width="1" height="1"/><rect x="5" y="9" width="1" height="1"/><rect x="6" y="10" width="1" height="1"/><rect x="7" y="10" width="1" height="1"/></g><g fill="#000"><rect x="1" y="0" width="2" height="1"/><rect x="0" y="1" width="4" height="1"/><rect x="0" y="2" width="4" height="1"/><rect x="9" y="2" width="2" height="1"/><rect x="1" y="3" width="2" height="1"/><rect x="8" y="3" width="1" height="1"/><rect x="11" y="3" width="1" height="1"/><rect x="8" y="4" width="1" height="1"/><rect x="11" y="4" width="1" height="1"/><rect x="9" y="5" width="2" height="1"/><rect x="1" y="6" width="2" height="1"/><rect x="0" y="7" width="1" height="1"/><rect x="3" y="7" width="1" height="1"/><rect x="0" y="8" width="1" height="1"/><rect x="3" y="8" width="1" height="1"/><rect x="9" y="8" width="2" height="1"/><rect x="1" y="9" width="2" height="1"/><rect x="8" y="9" width="4" height="1"/><rect x="8" y="10" width="4" height="1"/><rect x="9" y="11" width="2" height="1"/></g></svg>
<svg class="ic" style="left:767px;top:363px" width="10" height="10" shape-rendering="crispEdges"><g fill="#000"><rect x="2" y="0" width="6" height="1"/><rect x="1" y="1" width="8" height="1"/><rect x="1" y="2" width="3" height="1"/><rect x="6" y="2" width="4" height="1"/><rect x="0" y="3" width="4" height="1"/><rect x="6" y="3" width="4" height="1"/><rect x="0" y="4" width="4" height="1"/><rect x="0" y="5" width="4" height="1"/><rect x="0" y="6" width="4" height="1"/><rect x="6" y="6" width="4" height="1"/><rect x="1" y="7" width="3" height="1"/><rect x="6" y="7" width="4" height="1"/><rect x="1" y="8" width="8" height="1"/><rect x="2" y="9" width="6" height="1"/></g></svg>
<div class="c" style="left:10.5px;top:382px;color:#000;letter-spacing:-0.25px">ANE0A6O5</div>
<div class="c" style="left:105px;top:382px;color:#47699a;letter-spacing:0.7px">AA</div>
<div class="c" style="left:163px;top:382px;color:#000">A</div>
<div class="c" style="left:221px;top:382px;color:#000">One-Way</div>
<div class="c" style="left:299px;top:382px;color:#000">33416(SEK)</div>
<div class="c" style="left:382px;top:382px;color:#000">F</div>
<div class="c" style="left:569px;top:382px;color:#000">-- / 12M</div>
<svg class="ic" style="left:716px;top:383px" width="12" height="12" shape-rendering="crispEdges"><rect x="2" y="1" width="8" height="10" fill="#fff"/><g fill="#000"><rect x="0" y="0" width="12" height="1"/><rect x="0" y="1" width="2" height="1"/><rect x="10" y="1" width="2" height="1"/><rect x="0" y="2" width="2" height="1"/><rect x="10" y="2" width="2" height="1"/><rect x="0" y="3" width="2" height="1"/><rect x="3" y="3" width="6" height="1"/><rect x="10" y="3" width="2" height="1"/><rect x="0" y="4" width="2" height="1"/><rect x="10" y="4" width="2" height="1"/><rect x="0" y="5" width="2" height="1"/><rect x="3" y="5" width="6" height="1"/><rect x="10" y="5" width="2" height="1"/><rect x="0" y="6" width="2" height="1"/><rect x="10" y="6" width="2" height="1"/><rect x="0" y="7" width="2" height="1"/><rect x="3" y="7" width="6" height="1"/><rect x="10" y="7" width="2" height="1"/><rect x="0" y="8" width="2" height="1"/><rect x="10" y="8" width="2" height="1"/><rect x="0" y="9" width="2" height="1"/><rect x="10" y="9" width="2" height="1"/><rect x="0" y="10" width="2" height="1"/><rect x="10" y="10" width="2" height="1"/><rect x="0" y="11" width="12" height="1"/></g></svg>
<svg class="ic" style="left:741px;top:383px" width="13" height="12" shape-rendering="crispEdges"><g fill="#9a9a9a"><rect x="4" y="2" width="1" height="1"/><rect x="5" y="3" width="1" height="1"/><rect x="6" y="4" width="1" height="1"/><rect x="7" y="5" width="1" height="1"/><rect x="4" y="7" width="1" height="1"/><rect x="5" y="6" width="1" height="1"/><rect x="6" y="5" width="1" height="1"/><rect x="7" y="4" width="1" height="1"/><rect x="4" y="8" width="1" height="1"/><rect x="5" y="9" width="1" height="1"/><rect x="6" y="10" width="1" height="1"/><rect x="7" y="10" width="1" height="1"/></g><g fill="#000"><rect x="1" y="0" width="2" height="1"/><rect x="0" y="1" width="4" height="1"/><rect x="0" y="2" width="4" height="1"/><rect x="9" y="2" width="2" height="1"/><rect x="1" y="3" width="2" height="1"/><rect x="8" y="3" width="1" height="1"/><rect x="11" y="3" width="1" height="1"/><rect x="8" y="4" width="1" height="1"/><rect x="11" y="4" width="1" height="1"/><rect x="9" y="5" width="2" height="1"/><rect x="1" y="6" width="2" height="1"/><rect x="0" y="7" width="1" height="1"/><rect x="3" y="7" width="1" height="1"/><rect x="0" y="8" width="1" height="1"/><rect x="3" y="8" width="1" height="1"/><rect x="9" y="8" width="2" height="1"/><rect x="1" y="9" width="2" height="1"/><rect x="8" y="9" width="4" height="1"/><rect x="8" y="10" width="4" height="1"/><rect x="9" y="11" width="2" height="1"/></g></svg>
<svg class="ic" style="left:767px;top:384px" width="10" height="10" shape-rendering="crispEdges"><g fill="#000"><rect x="2" y="0" width="6" height="1"/><rect x="1" y="1" width="8" height="1"/><rect x="1" y="2" width="3" height="1"/><rect x="6" y="2" width="4" height="1"/><rect x="0" y="3" width="4" height="1"/><rect x="6" y="3" width="4" height="1"/><rect x="0" y="4" width="4" height="1"/><rect x="0" y="5" width="4" height="1"/><rect x="0" y="6" width="4" height="1"/><rect x="6" y="6" width="4" height="1"/><rect x="1" y="7" width="3" height="1"/><rect x="6" y="7" width="4" height="1"/><rect x="1" y="8" width="8" height="1"/><rect x="2" y="9" width="6" height="1"/></g></svg>
<div class="c" style="left:10.5px;top:403px;color:#000;letter-spacing:-0.25px">J1E6AO</div>
<div class="c" style="left:105px;top:403px;color:#47699a;letter-spacing:0.7px">AA</div>
<div class="c" style="left:163px;top:403px;color:#000">J</div>
<div class="c" style="left:221px;top:403px;color:#000">One-Way</div>
<div class="c" style="left:299px;top:403px;color:#000">33416(SEK)</div>
<div class="c" style="left:382px;top:403px;color:#000">B</div>
<svg class="ic" style="left:716px;top:404px" width="12" height="12" shape-rendering="crispEdges"><rect x="2" y="1" width="8" height="10" fill="#fff"/><g fill="#000"><rect x="0" y="0" width="12" height="1"/><rect x="0" y="1" width="2" height="1"/><rect x="10" y="1" width="2" height="1"/><rect x="0" y="2" width="2" height="1"/><rect x="10" y="2" width="2" height="1"/><rect x="0" y="3" width="2" height="1"/><rect x="3" y="3" width="6" height="1"/><rect x="10" y="3" width="2" height="1"/><rect x="0" y="4" width="2" height="1"/><rect x="10" y="4" width="2" height="1"/><rect x="0" y="5" width="2" height="1"/><rect x="3" y="5" width="6" height="1"/><rect x="10" y="5" width="2" height="1"/><rect x="0" y="6" width="2" height="1"/><rect x="10" y="6" width="2" height="1"/><rect x="0" y="7" width="2" height="1"/><rect x="3" y="7" width="6" height="1"/><rect x="10" y="7" width="2" height="1"/><rect x="0" y="8" width="2" height="1"/><rect x="10" y="8" width="2" height="1"/><rect x="0" y="9" width="2" height="1"/><rect x="10" y="9" width="2" height="1"/><rect x="0" y="10" width="2" height="1"/><rect x="10" y="10" width="2" height="1"/><rect x="0" y="11" width="12" height="1"/></g></svg>
<svg class="ic" style="left:741px;top:404px" width="13" height="12" shape-rendering="crispEdges"><g fill="#9a9a9a"><rect x="4" y="2" width="1" height="1"/><rect x="5" y="3" width="1" height="1"/><rect x="6" y="4" width="1" height="1"/><rect x="7" y="5" width="1" height="1"/><rect x="4" y="7" width="1" height="1"/><rect x="5" y="6" width="1" height="1"/><rect x="6" y="5" width="1" height="1"/><rect x="7" y="4" width="1" height="1"/><rect x="4" y="8" width="1" height="1"/><rect x="5" y="9" width="1" height="1"/><rect x="6" y="10" width="1" height="1"/><rect x="7" y="10" width="1" height="1"/></g><g fill="#000"><rect x="1" y="0" width="2" height="1"/><rect x="0" y="1" width="4" height="1"/><rect x="0" y="2" width="4" height="1"/><rect x="9" y="2" width="2" height="1"/><rect x="1" y="3" width="2" height="1"/><rect x="8" y="3" width="1" height="1"/><rect x="11" y="3" width="1" height="1"/><rect x="8" y="4" width="1" height="1"/><rect x="11" y="4" width="1" height="1"/><rect x="9" y="5" width="2" height="1"/><rect x="1" y="6" width="2" height="1"/><rect x="0" y="7" width="1" height="1"/><rect x="3" y="7" width="1" height="1"/><rect x="0" y="8" width="1" height="1"/><rect x="3" y="8" width="1" height="1"/><rect x="9" y="8" width="2" height="1"/><rect x="1" y="9" width="2" height="1"/><rect x="8" y="9" width="4" height="1"/><rect x="8" y="10" width="4" height="1"/><rect x="9" y="11" width="2" height="1"/></g></svg>
<svg class="ic" style="left:767px;top:405px" width="10" height="10" shape-rendering="crispEdges"><g fill="#000"><rect x="2" y="0" width="6" height="1"/><rect x="1" y="1" width="8" height="1"/><rect x="1" y="2" width="3" height="1"/><rect x="6" y="2" width="4" height="1"/><rect x="0" y="3" width="4" height="1"/><rect x="6" y="3" width="4" height="1"/><rect x="0" y="4" width="4" height="1"/><rect x="0" y="5" width="4" height="1"/><rect x="0" y="6" width="4" height="1"/><rect x="6" y="6" width="4" height="1"/><rect x="1" y="7" width="3" height="1"/><rect x="6" y="7" width="4" height="1"/><rect x="1" y="8" width="8" height="1"/><rect x="2" y="9" width="6" height="1"/></g></svg>
<div class="c" style="left:10.5px;top:424px;color:#000;letter-spacing:-0.25px">F1E6AO</div>
<div class="c" style="left:105px;top:424px;color:#47699a;letter-spacing:0.7px">AA</div>
<div class="c" style="left:163px;top:424px;color:#000">F</div>
<div class="c" style="left:221px;top:424px;color:#000">One-Way</div>
<div class="c" style="left:299px;top:424px;color:#000">41609(SEK)</div>
<div class="c" style="left:382px;top:424px;color:#000">F</div>
<svg class="ic" style="left:716px;top:425px" width="12" height="12" shape-rendering="crispEdges"><rect x="2" y="1" width="8" height="10" fill="#fff"/><g fill="#000"><rect x="0" y="0" width="12" height="1"/><rect x="0" y="1" width="2" height="1"/><rect x="10" y="1" width="2" height="1"/><rect x="0" y="2" width="2" height="1"/><rect x="10" y="2" width="2" height="1"/><rect x="0" y="3" width="2" height="1"/><rect x="3" y="3" width="6" height="1"/><rect x="10" y="3" width="2" height="1"/><rect x="0" y="4" width="2" height="1"/><rect x="10" y="4" width="2" height="1"/><rect x="0" y="5" width="2" height="1"/><rect x="3" y="5" width="6" height="1"/><rect x="10" y="5" width="2" height="1"/><rect x="0" y="6" width="2" height="1"/><rect x="10" y="6" width="2" height="1"/><rect x="0" y="7" width="2" height="1"/><rect x="3" y="7" width="6" height="1"/><rect x="10" y="7" width="2" height="1"/><rect x="0" y="8" width="2" height="1"/><rect x="10" y="8" width="2" height="1"/><rect x="0" y="9" width="2" height="1"/><rect x="10" y="9" width="2" height="1"/><rect x="0" y="10" width="2" height="1"/><rect x="10" y="10" width="2" height="1"/><rect x="0" y="11" width="12" height="1"/></g></svg>
<svg class="ic" style="left:741px;top:425px" width="13" height="12" shape-rendering="crispEdges"><g fill="#9a9a9a"><rect x="4" y="2" width="1" height="1"/><rect x="5" y="3" width="1" height="1"/><rect x="6" y="4" width="1" height="1"/><rect x="7" y="5" width="1" height="1"/><rect x="4" y="7" width="1" height="1"/><rect x="5" y="6" width="1" height="1"/><rect x="6" y="5" width="1" height="1"/><rect x="7" y="4" width="1" height="1"/><rect x="4" y="8" width="1" height="1"/><rect x="5" y="9" width="1" height="1"/><rect x="6" y="10" width="1" height="1"/><rect x="7" y="10" width="1" height="1"/></g><g fill="#000"><rect x="1" y="0" width="2" height="1"/><rect x="0" y="1" width="4" height="1"/><rect x="0" y="2" width="4" height="1"/><rect x="9" y="2" width="2" height="1"/><rect x="1" y="3" width="2" height="1"/><rect x="8" y="3" width="1" height="1"/><rect x="11" y="3" width="1" height="1"/><rect x="8" y="4" width="1" height="1"/><rect x="11" y="4" width="1" height="1"/><rect x="9" y="5" width="2" height="1"/><rect x="1" y="6" width="2" height="1"/><rect x="0" y="7" width="1" height="1"/><rect x="3" y="7" width="1" height="1"/><rect x="0" y="8" width="1" height="1"/><rect x="3" y="8" width="1" height="1"/><rect x="9" y="8" width="2" height="1"/><rect x="1" y="9" width="2" height="1"/><rect x="8" y="9" width="4" height="1"/><rect x="8" y="10" width="4" height="1"/><rect x="9" y="11" width="2" height="1"/></g></svg>
<svg class="ic" style="left:767px;top:426px" width="10" height="10" shape-rendering="crispEdges"><g fill="#000"><rect x="2" y="0" width="6" height="1"/><rect x="1" y="1" width="8" height="1"/><rect x="1" y="2" width="3" height="1"/><rect x="6" y="2" width="4" height="1"/><rect x="0" y="3" width="4" height="1"/><rect x="6" y="3" width="4" height="1"/><rect x="0" y="4" width="4" height="1"/><rect x="0" y="5" width="4" height="1"/><rect x="0" y="6" width="4" height="1"/><rect x="6" y="6" width="4" height="1"/><rect x="1" y="7" width="3" height="1"/><rect x="6" y="7" width="4" height="1"/><rect x="1" y="8" width="8" height="1"/><rect x="2" y="9" width="6" height="1"/></g></svg>
<div class="c" style="left:10.5px;top:445px;color:#000;letter-spacing:-0.25px">ANE0A6R5</div>
<div class="c" style="left:105px;top:445px;color:#47699a;letter-spacing:0.7px">AA</div>
<div class="c" style="left:163px;top:445px;color:#000">A</div>
<div class="c" style="left:221px;top:445px;color:#000">Round-Trip</div>
<div class="c" style="left:299px;top:445px;color:#000">47750(SEK)</div>
<div class="c" style="left:382px;top:445px;color:#000">F</div>
<div class="c" style="left:569px;top:445px;color:#000">-- / 12M</div>
<svg class="ic" style="left:716px;top:446px" width="12" height="12" shape-rendering="crispEdges"><rect x="2" y="1" width="8" height="10" fill="#fff"/><g fill="#000"><rect x="0" y="0" width="12" height="1"/><rect x="0" y="1" width="2" height="1"/><rect x="10" y="1" width="2" height="1"/><rect x="0" y="2" width="2" height="1"/><rect x="10" y="2" width="2" height="1"/><rect x="0" y="3" width="2" height="1"/><rect x="3" y="3" width="6" height="1"/><rect x="10" y="3" width="2" height="1"/><rect x="0" y="4" width="2" height="1"/><rect x="10" y="4" width="2" height="1"/><rect x="0" y="5" width="2" height="1"/><rect x="3" y="5" width="6" height="1"/><rect x="10" y="5" width="2" height="1"/><rect x="0" y="6" width="2" height="1"/><rect x="10" y="6" width="2" height="1"/><rect x="0" y="7" width="2" height="1"/><rect x="3" y="7" width="6" height="1"/><rect x="10" y="7" width="2" height="1"/><rect x="0" y="8" width="2" height="1"/><rect x="10" y="8" width="2" height="1"/><rect x="0" y="9" width="2" height="1"/><rect x="10" y="9" width="2" height="1"/><rect x="0" y="10" width="2" height="1"/><rect x="10" y="10" width="2" height="1"/><rect x="0" y="11" width="12" height="1"/></g></svg>
<svg class="ic" style="left:741px;top:446px" width="13" height="12" shape-rendering="crispEdges"><g fill="#9a9a9a"><rect x="4" y="2" width="1" height="1"/><rect x="5" y="3" width="1" height="1"/><rect x="6" y="4" width="1" height="1"/><rect x="7" y="5" width="1" height="1"/><rect x="4" y="7" width="1" height="1"/><rect x="5" y="6" width="1" height="1"/><rect x="6" y="5" width="1" height="1"/><rect x="7" y="4" width="1" height="1"/><rect x="4" y="8" width="1" height="1"/><rect x="5" y="9" width="1" height="1"/><rect x="6" y="10" width="1" height="1"/><rect x="7" y="10" width="1" height="1"/></g><g fill="#000"><rect x="1" y="0" width="2" height="1"/><rect x="0" y="1" width="4" height="1"/><rect x="0" y="2" width="4" height="1"/><rect x="9" y="2" width="2" height="1"/><rect x="1" y="3" width="2" height="1"/><rect x="8" y="3" width="1" height="1"/><rect x="11" y="3" width="1" height="1"/><rect x="8" y="4" width="1" height="1"/><rect x="11" y="4" width="1" height="1"/><rect x="9" y="5" width="2" height="1"/><rect x="1" y="6" width="2" height="1"/><rect x="0" y="7" width="1" height="1"/><rect x="3" y="7" width="1" height="1"/><rect x="0" y="8" width="1" height="1"/><rect x="3" y="8" width="1" height="1"/><rect x="9" y="8" width="2" height="1"/><rect x="1" y="9" width="2" height="1"/><rect x="8" y="9" width="4" height="1"/><rect x="8" y="10" width="4" height="1"/><rect x="9" y="11" width="2" height="1"/></g></svg>
<svg class="ic" style="left:767px;top:447px" width="10" height="10" shape-rendering="crispEdges"><g fill="#000"><rect x="2" y="0" width="6" height="1"/><rect x="1" y="1" width="8" height="1"/><rect x="1" y="2" width="3" height="1"/><rect x="6" y="2" width="4" height="1"/><rect x="0" y="3" width="4" height="1"/><rect x="6" y="3" width="4" height="1"/><rect x="0" y="4" width="4" height="1"/><rect x="0" y="5" width="4" height="1"/><rect x="0" y="6" width="4" height="1"/><rect x="6" y="6" width="4" height="1"/><rect x="1" y="7" width="3" height="1"/><rect x="6" y="7" width="4" height="1"/><rect x="1" y="8" width="8" height="1"/><rect x="2" y="9" width="6" height="1"/></g></svg>
<div class="c" style="left:10.5px;top:466px;color:#000;letter-spacing:-0.25px">J1E6AR</div>
<div class="c" style="left:105px;top:466px;color:#47699a;letter-spacing:0.7px">AA</div>
<div class="c" style="left:163px;top:466px;color:#000">J</div>
<div class="c" style="left:221px;top:466px;color:#000">Round-Trip</div>
<div class="c" style="left:299px;top:466px;color:#000">47750(SEK)</div>
<div class="c" style="left:382px;top:466px;color:#000">B</div>
<svg class="ic" style="left:716px;top:467px" width="12" height="12" shape-rendering="crispEdges"><rect x="2" y="1" width="8" height="10" fill="#fff"/><g fill="#000"><rect x="0" y="0" width="12" height="1"/><rect x="0" y="1" width="2" height="1"/><rect x="10" y="1" width="2" height="1"/><rect x="0" y="2" width="2" height="1"/><rect x="10" y="2" width="2" height="1"/><rect x="0" y="3" width="2" height="1"/><rect x="3" y="3" width="6" height="1"/><rect x="10" y="3" width="2" height="1"/><rect x="0" y="4" width="2" height="1"/><rect x="10" y="4" width="2" height="1"/><rect x="0" y="5" width="2" height="1"/><rect x="3" y="5" width="6" height="1"/><rect x="10" y="5" width="2" height="1"/><rect x="0" y="6" width="2" height="1"/><rect x="10" y="6" width="2" height="1"/><rect x="0" y="7" width="2" height="1"/><rect x="3" y="7" width="6" height="1"/><rect x="10" y="7" width="2" height="1"/><rect x="0" y="8" width="2" height="1"/><rect x="10" y="8" width="2" height="1"/><rect x="0" y="9" width="2" height="1"/><rect x="10" y="9" width="2" height="1"/><rect x="0" y="10" width="2" height="1"/><rect x="10" y="10" width="2" height="1"/><rect x="0" y="11" width="12" height="1"/></g></svg>
<svg class="ic" style="left:741px;top:467px" width="13" height="12" shape-rendering="crispEdges"><g fill="#9a9a9a"><rect x="4" y="2" width="1" height="1"/><rect x="5" y="3" width="1" height="1"/><rect x="6" y="4" width="1" height="1"/><rect x="7" y="5" width="1" height="1"/><rect x="4" y="7" width="1" height="1"/><rect x="5" y="6" width="1" height="1"/><rect x="6" y="5" width="1" height="1"/><rect x="7" y="4" width="1" height="1"/><rect x="4" y="8" width="1" height="1"/><rect x="5" y="9" width="1" height="1"/><rect x="6" y="10" width="1" height="1"/><rect x="7" y="10" width="1" height="1"/></g><g fill="#000"><rect x="1" y="0" width="2" height="1"/><rect x="0" y="1" width="4" height="1"/><rect x="0" y="2" width="4" height="1"/><rect x="9" y="2" width="2" height="1"/><rect x="1" y="3" width="2" height="1"/><rect x="8" y="3" width="1" height="1"/><rect x="11" y="3" width="1" height="1"/><rect x="8" y="4" width="1" height="1"/><rect x="11" y="4" width="1" height="1"/><rect x="9" y="5" width="2" height="1"/><rect x="1" y="6" width="2" height="1"/><rect x="0" y="7" width="1" height="1"/><rect x="3" y="7" width="1" height="1"/><rect x="0" y="8" width="1" height="1"/><rect x="3" y="8" width="1" height="1"/><rect x="9" y="8" width="2" height="1"/><rect x="1" y="9" width="2" height="1"/><rect x="8" y="9" width="4" height="1"/><rect x="8" y="10" width="4" height="1"/><rect x="9" y="11" width="2" height="1"/></g></svg>
<svg class="ic" style="left:767px;top:468px" width="10" height="10" shape-rendering="crispEdges"><g fill="#000"><rect x="2" y="0" width="6" height="1"/><rect x="1" y="1" width="8" height="1"/><rect x="1" y="2" width="3" height="1"/><rect x="6" y="2" width="4" height="1"/><rect x="0" y="3" width="4" height="1"/><rect x="6" y="3" width="4" height="1"/><rect x="0" y="4" width="4" height="1"/><rect x="0" y="5" width="4" height="1"/><rect x="0" y="6" width="4" height="1"/><rect x="6" y="6" width="4" height="1"/><rect x="1" y="7" width="3" height="1"/><rect x="6" y="7" width="4" height="1"/><rect x="1" y="8" width="8" height="1"/><rect x="2" y="9" width="6" height="1"/></g></svg>
<div class="c" style="left:10.5px;top:487px;color:#000;letter-spacing:-0.25px">F1E6AR</div>
<div class="c" style="left:105px;top:487px;color:#47699a;letter-spacing:0.7px">AA</div>
<div class="c" style="left:163px;top:487px;color:#000">F</div>
<div class="c" style="left:221px;top:487px;color:#000">Round-Trip</div>
<div class="c" style="left:299px;top:487px;color:#000">66675(SEK)</div>
<div class="c" style="left:382px;top:487px;color:#000">F</div>
<svg class="ic" style="left:716px;top:488px" width="12" height="12" shape-rendering="crispEdges"><rect x="2" y="1" width="8" height="10" fill="#fff"/><g fill="#000"><rect x="0" y="0" width="12" height="1"/><rect x="0" y="1" width="2" height="1"/><rect x="10" y="1" width="2" height="1"/><rect x="0" y="2" width="2" height="1"/><rect x="10" y="2" width="2" height="1"/><rect x="0" y="3" width="2" height="1"/><rect x="3" y="3" width="6" height="1"/><rect x="10" y="3" width="2" height="1"/><rect x="0" y="4" width="2" height="1"/><rect x="10" y="4" width="2" height="1"/><rect x="0" y="5" width="2" height="1"/><rect x="3" y="5" width="6" height="1"/><rect x="10" y="5" width="2" height="1"/><rect x="0" y="6" width="2" height="1"/><rect x="10" y="6" width="2" height="1"/><rect x="0" y="7" width="2" height="1"/><rect x="3" y="7" width="6" height="1"/><rect x="10" y="7" width="2" height="1"/><rect x="0" y="8" width="2" height="1"/><rect x="10" y="8" width="2" height="1"/><rect x="0" y="9" width="2" height="1"/><rect x="10" y="9" width="2" height="1"/><rect x="0" y="10" width="2" height="1"/><rect x="10" y="10" width="2" height="1"/><rect x="0" y="11" width="12" height="1"/></g></svg>
<svg class="ic" style="left:741px;top:488px" width="13" height="12" shape-rendering="crispEdges"><g fill="#9a9a9a"><rect x="4" y="2" width="1" height="1"/><rect x="5" y="3" width="1" height="1"/><rect x="6" y="4" width="1" height="1"/><rect x="7" y="5" width="1" height="1"/><rect x="4" y="7" width="1" height="1"/><rect x="5" y="6" width="1" height="1"/><rect x="6" y="5" width="1" height="1"/><rect x="7" y="4" width="1" height="1"/><rect x="4" y="8" width="1" height="1"/><rect x="5" y="9" width="1" height="1"/><rect x="6" y="10" width="1" height="1"/><rect x="7" y="10" width="1" height="1"/></g><g fill="#000"><rect x="1" y="0" width="2" height="1"/><rect x="0" y="1" width="4" height="1"/><rect x="0" y="2" width="4" height="1"/><rect x="9" y="2" width="2" height="1"/><rect x="1" y="3" width="2" height="1"/><rect x="8" y="3" width="1" height="1"/><rect x="11" y="3" width="1" height="1"/><rect x="8" y="4" width="1" height="1"/><rect x="11" y="4" width="1" height="1"/><rect x="9" y="5" width="2" height="1"/><rect x="1" y="6" width="2" height="1"/><rect x="0" y="7" width="1" height="1"/><rect x="3" y="7" width="1" height="1"/><rect x="0" y="8" width="1" height="1"/><rect x="3" y="8" width="1" height="1"/><rect x="9" y="8" width="2" height="1"/><rect x="1" y="9" width="2" height="1"/><rect x="8" y="9" width="4" height="1"/><rect x="8" y="10" width="4" height="1"/><rect x="9" y="11" width="2" height="1"/></g></svg>
<svg class="ic" style="left:767px;top:489px" width="10" height="10" shape-rendering="crispEdges"><g fill="#000"><rect x="2" y="0" width="6" height="1"/><rect x="1" y="1" width="8" height="1"/><rect x="1" y="2" width="3" height="1"/><rect x="6" y="2" width="4" height="1"/><rect x="0" y="3" width="4" height="1"/><rect x="6" y="3" width="4" height="1"/><rect x="0" y="4" width="4" height="1"/><rect x="0" y="5" width="4" height="1"/><rect x="0" y="6" width="4" height="1"/><rect x="6" y="6" width="4" height="1"/><rect x="1" y="7" width="3" height="1"/><rect x="6" y="7" width="4" height="1"/><rect x="1" y="8" width="8" height="1"/><rect x="2" y="9" width="6" height="1"/></g></svg>
</body></html>
